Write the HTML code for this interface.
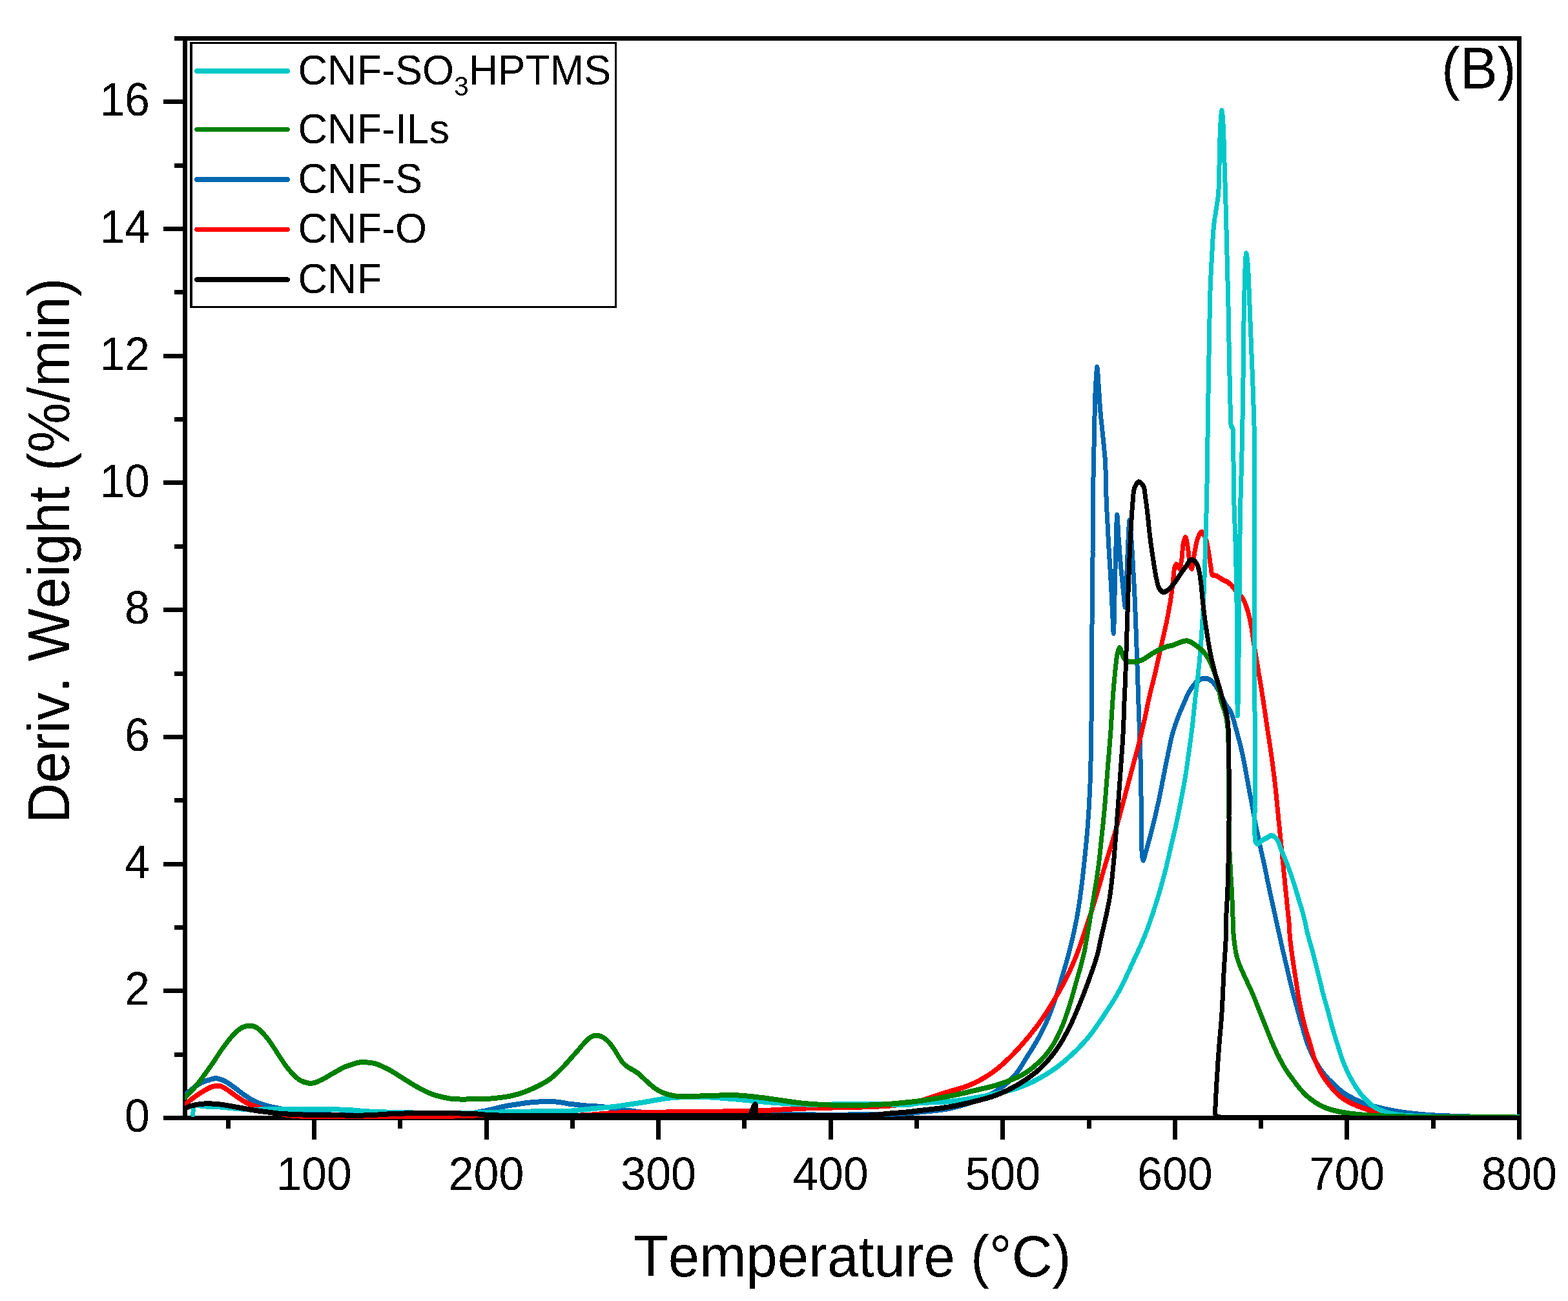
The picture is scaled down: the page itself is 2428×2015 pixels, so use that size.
<!DOCTYPE html>
<html lang="en">
<head>
<meta charset="utf-8">
<title>DTG curves (B)</title>
<style>
html,body{margin:0;padding:0;background:#fff;}
body{width:2428px;height:2015px;overflow:hidden;}
svg{display:block;font-family:"Liberation Sans",sans-serif;}
.ax{fill:#000;shape-rendering:crispEdges;}
.cv{fill:none;stroke-linejoin:round;stroke-linecap:round;shape-rendering:crispEdges;}
.tl{font-size:70px;fill:#000;}
.ti{font-size:86.9px;fill:#000;font-kerning:none;}
.lg{font-size:63px;fill:#000;}
</style>
</head>
<body>
<svg width="2428" height="2015" viewBox="0 0 2428 2015">
<rect x="0" y="0" width="2428" height="2015" fill="#fff"/>
<filter id="crisp" x="-5%" y="-5%" width="110%" height="110%" color-interpolation-filters="sRGB"><feComponentTransfer><feFuncA type="discrete" tableValues="0 1"/></feComponentTransfer></filter>
<g class="ax">
<rect x="283" y="56" width="7" height="1679"/>
<rect x="2349" y="56" width="7" height="1709"/>
<rect x="270" y="56" width="2086" height="7"/>
<rect x="253" y="1728" width="2103" height="7"/>
<rect x="270" y="1630" width="13" height="7"/>
<rect x="253" y="1531" width="30" height="7"/>
<rect x="270" y="1433" width="13" height="7"/>
<rect x="253" y="1335" width="30" height="7"/>
<rect x="270" y="1236" width="13" height="7"/>
<rect x="253" y="1138" width="30" height="7"/>
<rect x="270" y="1040" width="13" height="7"/>
<rect x="253" y="941" width="30" height="7"/>
<rect x="270" y="843" width="13" height="7"/>
<rect x="253" y="744" width="30" height="7"/>
<rect x="270" y="646" width="13" height="7"/>
<rect x="253" y="548" width="30" height="7"/>
<rect x="270" y="449" width="13" height="7"/>
<rect x="253" y="351" width="30" height="7"/>
<rect x="270" y="253" width="13" height="7"/>
<rect x="253" y="154" width="30" height="7"/>
<rect x="350" y="1735" width="7" height="13"/>
<rect x="483" y="1735" width="7" height="30"/>
<rect x="616" y="1735" width="7" height="13"/>
<rect x="750" y="1735" width="7" height="30"/>
<rect x="883" y="1735" width="7" height="13"/>
<rect x="1016" y="1735" width="7" height="30"/>
<rect x="1149" y="1735" width="7" height="13"/>
<rect x="1283" y="1735" width="7" height="30"/>
<rect x="1416" y="1735" width="7" height="13"/>
<rect x="1549" y="1735" width="7" height="30"/>
<rect x="1683" y="1735" width="7" height="13"/>
<rect x="1816" y="1735" width="7" height="30"/>
<rect x="1949" y="1735" width="7" height="13"/>
<rect x="2082" y="1735" width="7" height="30"/>
<rect x="2216" y="1735" width="7" height="13"/>
</g>
<clipPath id="plot"><rect x="286" y="60" width="2067" height="1673"/></clipPath>
<g clip-path="url(#plot)">
<path class="cv" stroke="#0068B0" stroke-width="7" transform="scale(1 1.14286)" d="M286.4,1483.8L289.0,1481.9L291.6,1480.0L294.3,1478.1L296.7,1476.4L299.2,1474.6L301.7,1472.9L304.3,1471.2L307.6,1469.4L311.0,1467.7L314.3,1466.3L317.2,1465.3L320.1,1464.5L322.9,1463.8L326.5,1462.7L330.0,1461.9L332.9,1461.5L335.7,1461.5L339.2,1462.1L342.9,1463.1L345.7,1464.2L348.6,1465.5L351.4,1466.9L354.3,1468.4L357.2,1470.1L360.0,1471.9L362.9,1473.7L365.7,1475.6L368.6,1477.5L371.4,1479.4L374.3,1481.3L377.1,1483.1L380.0,1484.8L382.8,1486.5L385.7,1488.1L388.5,1489.7L391.4,1491.1L394.3,1492.5L397.1,1493.6L400.0,1494.7L402.9,1495.6L405.7,1496.5L408.6,1497.4L411.4,1498.1L414.3,1498.8L417.1,1499.4L420.0,1500.0L422.7,1500.5L425.4,1501.0L428.6,1501.5L431.7,1502.1L435.1,1502.7L438.9,1503.5L442.9,1504.2L447.1,1505.0L451.4,1505.6L454.8,1506.1L458.2,1506.5L461.8,1507.0L465.5,1507.5L469.4,1507.9L473.3,1508.3L477.3,1508.7L481.4,1509.1L485.6,1509.4L489.9,1509.7L494.3,1510.0L497.8,1510.2L501.5,1510.3L505.3,1510.5L509.2,1510.6L513.1,1510.7L517.2,1510.8L521.3,1510.8L525.4,1510.9L529.6,1510.9L533.8,1510.9L537.9,1510.9L542.1,1510.9L546.2,1510.9L550.3,1511.0L554.3,1511.0L558.2,1511.0L562.0,1511.0L565.7,1511.0L569.9,1511.0L574.0,1511.0L577.9,1511.1L581.7,1511.1L585.5,1511.1L589.3,1511.1L593.0,1511.1L596.8,1511.1L600.6,1511.1L604.6,1511.1L608.6,1511.0L612.8,1511.0L617.1,1511.0L620.6,1511.0L624.3,1511.0L628.1,1511.0L632.0,1511.0L636.1,1510.9L640.2,1510.9L644.4,1510.9L648.6,1510.9L652.9,1510.9L657.2,1510.9L661.5,1510.9L665.8,1510.8L670.0,1510.8L674.2,1510.8L678.2,1510.7L682.2,1510.7L686.1,1510.6L689.8,1510.6L693.3,1510.5L696.7,1510.4L699.9,1510.3L702.9,1510.2L707.2,1510.1L711.3,1509.9L715.1,1509.7L718.7,1509.5L722.1,1509.3L725.3,1509.1L728.4,1508.8L731.4,1508.5L735.4,1508.0L738.9,1507.4L742.3,1506.8L745.7,1506.2L749.3,1505.7L752.9,1505.1L756.4,1504.4L760.0,1503.8L763.6,1503.0L767.1,1502.2L770.7,1501.4L774.3,1500.6L777.9,1499.9L781.4,1499.3L785.0,1498.7L788.6,1498.1L792.1,1497.6L795.7,1497.1L799.3,1496.7L802.9,1496.2L806.4,1495.8L809.9,1495.3L813.4,1494.8L817.1,1494.4L820.8,1494.1L824.6,1493.8L828.4,1493.5L832.2,1493.3L835.7,1493.1L839.1,1493.0L842.3,1492.9L845.5,1492.8L848.6,1492.8L852.4,1492.8L856.2,1492.9L860.0,1493.1L863.8,1493.5L867.7,1493.9L871.4,1494.4L874.8,1494.9L878.1,1495.5L881.4,1496.0L884.7,1496.3L888.0,1496.6L891.4,1496.9L895.2,1497.3L899.0,1497.7L902.9,1498.1L906.7,1498.4L910.5,1498.6L914.3,1498.8L918.1,1498.9L921.9,1499.1L925.7,1499.4L929.5,1499.6L933.3,1499.9L937.1,1500.3L940.9,1500.7L944.7,1501.3L948.6,1501.9L951.7,1502.3L954.9,1502.8L958.1,1503.3L961.4,1503.8L964.9,1504.2L968.5,1504.5L972.1,1504.9L975.7,1505.2L979.2,1505.6L982.7,1506.1L986.2,1506.5L990.0,1506.9L993.2,1507.2L996.5,1507.5L1000.0,1507.9L1003.6,1508.2L1007.4,1508.5L1011.4,1508.8L1014.7,1508.9L1018.2,1509.1L1021.8,1509.3L1025.5,1509.4L1029.4,1509.6L1033.4,1509.7L1037.4,1509.8L1041.5,1510.0L1045.7,1510.1L1050.0,1510.2L1054.3,1510.2L1057.8,1510.3L1061.3,1510.4L1064.8,1510.4L1068.4,1510.5L1072.0,1510.5L1075.7,1510.5L1079.4,1510.5L1083.2,1510.6L1087.1,1510.6L1091.0,1510.6L1094.9,1510.6L1098.9,1510.6L1103.0,1510.6L1107.1,1510.6L1111.4,1510.6L1115.6,1510.6L1120.0,1510.6L1123.4,1510.6L1127.0,1510.6L1130.6,1510.6L1134.3,1510.7L1138.1,1510.7L1141.9,1510.7L1145.8,1510.7L1149.7,1510.7L1153.7,1510.7L1157.7,1510.7L1161.8,1510.7L1165.9,1510.7L1170.0,1510.7L1174.1,1510.7L1178.3,1510.7L1182.4,1510.7L1186.6,1510.7L1190.7,1510.7L1194.9,1510.6L1199.0,1510.6L1203.1,1510.6L1207.1,1510.6L1211.2,1510.6L1215.2,1510.6L1219.1,1510.6L1223.0,1510.6L1226.8,1510.6L1230.6,1510.6L1234.3,1510.6L1238.5,1510.6L1242.6,1510.6L1246.7,1510.6L1250.9,1510.6L1254.9,1510.6L1259.0,1510.6L1263.1,1510.7L1267.1,1510.7L1271.1,1510.7L1275.1,1510.7L1279.0,1510.7L1282.9,1510.7L1286.8,1510.7L1290.6,1510.7L1294.4,1510.7L1298.2,1510.7L1301.9,1510.7L1305.6,1510.7L1309.3,1510.7L1312.9,1510.7L1316.5,1510.6L1320.0,1510.6L1324.2,1510.6L1328.3,1510.6L1332.5,1510.6L1336.6,1510.5L1340.6,1510.5L1344.6,1510.5L1348.6,1510.4L1352.4,1510.4L1356.3,1510.4L1360.0,1510.3L1363.6,1510.3L1367.2,1510.2L1370.6,1510.2L1373.9,1510.1L1377.1,1510.0L1381.2,1509.9L1385.1,1509.8L1388.9,1509.6L1392.5,1509.5L1396.0,1509.3L1399.3,1509.1L1402.6,1508.9L1405.7,1508.8L1409.3,1508.5L1412.5,1508.3L1415.6,1508.0L1419.0,1507.7L1422.9,1507.3L1426.0,1507.0L1429.4,1506.7L1433.1,1506.4L1437.0,1506.1L1441.1,1505.7L1445.2,1505.3L1449.5,1504.9L1453.8,1504.5L1458.1,1504.0L1462.3,1503.4L1466.5,1502.8L1470.5,1502.1L1474.2,1501.4L1478.0,1500.6L1481.9,1499.7L1485.8,1498.8L1489.6,1497.9L1493.5,1496.9L1497.3,1495.9L1501.1,1494.9L1504.8,1493.8L1508.3,1492.8L1511.7,1491.7L1515.0,1490.6L1518.1,1489.6L1522.0,1488.2L1525.6,1486.8L1529.0,1485.5L1532.3,1484.0L1535.5,1482.5L1538.7,1480.9L1541.9,1479.2L1545.0,1477.4L1548.2,1475.4L1551.4,1473.3L1554.5,1471.1L1557.6,1468.9L1560.5,1466.7L1563.2,1464.6L1565.7,1462.5L1568.5,1460.0L1570.9,1457.6L1573.2,1455.2L1575.4,1452.7L1577.6,1450.0L1579.7,1447.4L1581.7,1444.7L1583.6,1441.9L1585.6,1439.0L1587.6,1436.1L1589.5,1433.3L1591.5,1430.6L1593.5,1427.8L1595.5,1425.1L1597.5,1422.3L1599.5,1419.5L1601.4,1416.7L1603.2,1414.1L1604.9,1411.5L1606.6,1408.8L1608.3,1406.2L1610.0,1403.5L1611.7,1400.7L1613.3,1397.9L1614.9,1395.2L1616.4,1392.5L1617.9,1389.7L1619.4,1386.8L1620.9,1383.9L1622.4,1381.0L1623.8,1378.0L1625.2,1375.0L1626.6,1371.9L1628.0,1368.7L1629.4,1365.4L1630.8,1362.1L1632.2,1358.7L1633.5,1355.4L1634.8,1352.1L1636.0,1348.9L1637.1,1345.8L1638.3,1342.7L1639.3,1339.8L1640.3,1336.9L1641.3,1334.0L1642.3,1331.1L1643.2,1328.1L1644.3,1325.0L1645.3,1321.9L1646.4,1318.7L1647.5,1315.4L1648.6,1312.0L1649.8,1308.6L1650.9,1305.2L1652.0,1301.7L1653.1,1298.3L1654.1,1295.0L1655.1,1291.8L1656.0,1288.6L1656.9,1285.4L1657.8,1282.3L1658.7,1279.1L1659.6,1275.9L1660.5,1272.7L1661.3,1269.5L1662.1,1266.3L1663.0,1263.0L1663.8,1259.7L1664.6,1256.5L1665.3,1253.2L1666.1,1249.9L1666.9,1246.6L1667.6,1243.2L1668.3,1239.7L1669.0,1236.2L1669.6,1233.0L1670.2,1229.8L1670.8,1226.5L1671.3,1223.2L1671.9,1219.9L1672.4,1216.5L1672.9,1213.0L1673.5,1209.6L1674.0,1206.2L1674.5,1202.8L1675.0,1199.4L1675.4,1196.0L1675.9,1192.7L1676.4,1189.3L1676.8,1186.0L1677.3,1182.6L1677.7,1179.3L1678.1,1175.9L1678.5,1172.6L1678.9,1169.2L1679.3,1165.9L1679.7,1162.5L1680.1,1159.2L1680.5,1155.8L1680.9,1152.5L1681.2,1149.2L1681.6,1145.9L1682.0,1142.6L1682.3,1139.3L1682.7,1136.0L1683.0,1132.7L1683.4,1129.4L1683.7,1126.0L1684.0,1122.6L1684.3,1119.2L1684.6,1115.7L1684.9,1112.5L1685.1,1109.3L1685.4,1106.1L1685.6,1102.8L1685.9,1099.5L1686.1,1096.2L1686.3,1092.9L1686.5,1089.5L1686.7,1086.2L1686.9,1082.8L1687.1,1079.3L1687.3,1075.9L1687.5,1072.4L1687.7,1069.0L1687.8,1065.5L1688.0,1062.3L1688.1,1059.0L1688.3,1055.8L1688.4,1052.5L1688.5,1049.1L1688.6,1045.8L1688.7,1042.5L1688.8,1039.1L1688.9,1035.7L1689.0,1032.3L1689.1,1028.9L1689.2,1025.5L1689.3,1022.1L1689.4,1018.7L1689.5,1015.3L1689.5,1012.0L1689.6,1008.6L1689.7,1005.2L1689.7,1001.9L1689.8,998.5L1689.8,995.1L1689.9,991.6L1689.9,988.2L1689.9,984.7L1689.9,981.3L1690.0,977.8L1690.0,974.4L1690.0,971.0L1690.0,967.6L1690.0,964.2L1690.0,960.9L1690.1,957.6L1690.1,954.4L1690.1,951.2L1690.1,948.1L1690.1,945.0L1690.2,941.4L1690.2,937.9L1690.2,934.6L1690.2,931.3L1690.3,928.2L1690.3,925.0L1690.3,921.8L1690.4,918.6L1690.4,915.2L1690.4,911.7L1690.4,908.0L1690.5,904.2L1690.5,901.3L1690.5,898.3L1690.6,895.2L1690.6,892.0L1690.6,888.7L1690.6,885.4L1690.7,882.0L1690.7,878.6L1690.7,875.1L1690.7,871.5L1690.8,867.9L1690.8,864.3L1690.8,860.7L1690.9,857.0L1690.9,853.4L1690.9,849.7L1691.0,846.0L1691.0,842.4L1691.0,838.7L1691.1,835.1L1691.1,831.5L1691.1,827.9L1691.2,824.3L1691.2,820.8L1691.2,817.4L1691.3,813.9L1691.3,810.4L1691.3,806.9L1691.4,803.5L1691.4,800.0L1691.5,796.5L1691.5,793.1L1691.5,789.6L1691.6,786.1L1691.6,782.6L1691.7,779.2L1691.7,775.7L1691.8,772.2L1691.8,768.8L1691.8,765.3L1691.9,761.8L1691.9,758.3L1692.0,754.9L1692.0,751.4L1692.0,747.9L1692.1,744.4L1692.1,741.0L1692.1,737.5L1692.2,734.0L1692.2,730.4L1692.2,726.8L1692.3,723.1L1692.3,719.4L1692.3,715.6L1692.3,711.9L1692.4,708.1L1692.4,704.3L1692.4,700.6L1692.4,696.8L1692.5,693.1L1692.5,689.4L1692.5,685.8L1692.6,682.2L1692.6,678.7L1692.6,675.3L1692.6,671.9L1692.7,668.7L1692.7,665.5L1692.7,662.5L1692.8,659.6L1692.8,656.8L1692.9,654.2L1692.9,650.4L1693.0,647.0L1693.1,643.8L1693.2,640.9L1693.2,638.0L1693.3,635.2L1693.4,632.2L1693.5,629.1L1693.6,625.6L1693.6,622.7L1693.7,619.6L1693.8,616.3L1693.9,613.0L1693.9,609.6L1694.0,606.2L1694.1,602.7L1694.2,599.1L1694.3,595.6L1694.3,592.0L1694.4,588.5L1694.5,585.0L1694.6,581.6L1694.7,578.3L1694.8,575.0L1694.9,571.4L1694.9,567.7L1695.0,564.0L1695.1,560.4L1695.2,556.8L1695.3,553.3L1695.4,549.7L1695.5,546.3L1695.6,542.9L1695.7,539.6L1695.8,536.4L1696.0,533.3L1696.1,529.8L1696.3,526.4L1696.5,523.0L1696.7,519.8L1697.0,516.7L1697.2,513.7L1697.4,510.9L1697.6,508.3L1697.9,504.8L1698.2,501.3L1698.5,498.6L1698.8,497.5L1699.1,498.2L1699.4,500.2L1699.7,503.2L1700.0,506.9L1700.3,511.0L1700.6,515.2L1700.9,519.3L1701.2,522.9L1701.5,526.2L1701.7,529.6L1702.0,533.1L1702.2,536.6L1702.4,540.1L1702.7,543.6L1703.0,547.2L1703.3,550.7L1703.6,554.2L1703.9,557.7L1704.3,561.2L1704.7,564.8L1705.1,568.4L1705.5,572.0L1706.0,575.5L1706.4,578.9L1706.8,582.2L1707.1,585.4L1707.6,589.1L1708.0,592.7L1708.4,596.1L1708.8,599.5L1709.2,602.9L1709.5,606.3L1709.9,609.4L1710.2,612.4L1710.5,615.4L1710.9,618.5L1711.2,621.9L1711.4,625.6L1711.6,628.2L1711.7,631.0L1711.8,634.0L1712.0,637.0L1712.1,640.2L1712.1,643.5L1712.2,646.8L1712.3,650.3L1712.4,653.7L1712.5,657.3L1712.6,660.8L1712.7,664.4L1712.8,668.0L1712.9,671.5L1713.1,675.0L1713.2,678.3L1713.4,681.7L1713.6,685.1L1713.8,688.5L1713.9,692.0L1714.1,695.5L1714.3,699.0L1714.5,702.6L1714.7,706.1L1715.0,709.7L1715.2,713.3L1715.4,716.8L1715.6,720.3L1715.8,723.9L1716.0,727.3L1716.2,730.8L1716.5,734.2L1716.7,737.5L1716.9,741.1L1717.1,744.7L1717.4,748.3L1717.6,751.9L1717.9,755.4L1718.1,759.0L1718.4,762.5L1718.6,765.9L1718.9,769.4L1719.1,772.8L1719.3,776.2L1719.6,779.6L1719.8,783.0L1720.0,786.3L1720.2,789.6L1720.5,793.2L1720.7,796.9L1720.9,800.5L1721.1,804.1L1721.3,807.7L1721.5,811.3L1721.7,814.8L1721.9,818.2L1722.1,821.6L1722.3,824.9L1722.4,828.1L1722.6,831.2L1722.8,835.3L1723.1,839.7L1723.3,844.2L1723.5,848.5L1723.7,852.4L1723.9,855.5L1724.1,857.6L1724.3,858.3L1724.4,857.9L1724.5,856.8L1724.7,855.0L1724.8,852.7L1724.9,849.8L1725.0,846.4L1725.1,842.7L1725.2,838.7L1725.3,834.4L1725.4,830.0L1725.5,825.4L1725.7,820.9L1725.8,816.3L1725.9,811.9L1726.0,807.7L1726.1,803.7L1726.2,800.0L1726.3,796.6L1726.4,793.1L1726.5,789.5L1726.6,786.0L1726.7,782.4L1726.8,778.8L1726.9,775.2L1727.0,771.6L1727.1,768.0L1727.2,764.4L1727.3,760.9L1727.4,757.4L1727.6,753.9L1727.7,750.5L1727.8,747.1L1727.9,743.8L1728.0,740.6L1728.1,737.5L1728.2,733.6L1728.4,729.5L1728.5,725.1L1728.6,720.7L1728.7,716.4L1728.9,712.2L1729.0,708.3L1729.1,704.9L1729.3,702.0L1729.4,699.8L1729.6,698.4L1729.8,697.9L1730.0,698.6L1730.2,700.6L1730.5,703.6L1730.7,707.3L1731.0,711.6L1731.3,716.2L1731.5,720.8L1731.8,725.2L1732.1,729.2L1732.4,732.3L1732.7,735.5L1733.0,738.8L1733.2,742.2L1733.5,745.6L1733.8,749.0L1734.1,752.4L1734.5,755.7L1734.8,759.1L1735.1,762.4L1735.4,765.6L1735.7,768.8L1736.1,772.4L1736.5,776.0L1736.9,779.6L1737.3,783.2L1737.7,786.6L1738.1,790.1L1738.5,793.5L1738.9,796.8L1739.3,800.0L1739.7,803.9L1740.2,808.1L1740.7,812.5L1741.1,816.5L1741.6,819.8L1742.0,822.1L1742.4,822.9L1742.6,822.4L1742.9,821.0L1743.1,818.8L1743.3,816.0L1743.5,812.6L1743.6,808.7L1743.8,804.6L1744.0,800.2L1744.1,795.7L1744.3,791.3L1744.4,786.9L1744.6,782.9L1744.8,779.2L1744.9,775.9L1745.1,772.5L1745.2,769.1L1745.4,765.6L1745.6,762.1L1745.7,758.5L1745.9,755.0L1746.0,751.5L1746.2,748.0L1746.3,744.6L1746.5,741.3L1746.6,738.1L1746.8,734.9L1747.0,732.0L1747.1,729.2L1747.4,724.9L1747.6,720.3L1747.9,715.8L1748.2,711.7L1748.4,708.3L1748.7,706.0L1749.0,705.2L1749.3,705.8L1749.6,707.5L1750.0,710.0L1750.3,713.3L1750.7,717.1L1751.0,721.2L1751.4,725.5L1751.7,729.7L1752.1,733.8L1752.4,737.5L1752.7,740.8L1752.9,744.1L1753.2,747.5L1753.4,751.0L1753.7,754.5L1753.9,758.0L1754.1,761.5L1754.4,765.1L1754.6,768.6L1754.8,772.2L1755.0,775.7L1755.2,779.2L1755.5,782.6L1755.7,786.0L1755.9,789.4L1756.1,792.7L1756.3,796.1L1756.5,799.5L1756.7,802.9L1756.9,806.3L1757.1,809.8L1757.2,813.4L1757.4,817.1L1757.6,820.8L1757.8,824.0L1757.9,827.3L1758.1,830.7L1758.2,834.1L1758.4,837.6L1758.5,841.2L1758.7,844.8L1758.8,848.4L1759.0,852.1L1759.1,855.7L1759.3,859.4L1759.4,863.0L1759.6,866.5L1759.7,870.1L1759.8,873.5L1760.0,876.9L1760.1,880.2L1760.2,883.3L1760.4,887.1L1760.5,890.9L1760.7,894.7L1760.9,898.4L1761.0,902.1L1761.1,905.6L1761.3,909.1L1761.4,912.5L1761.5,915.8L1761.7,919.0L1761.8,922.1L1761.9,925.0L1762.0,928.7L1762.2,931.9L1762.3,935.0L1762.4,938.1L1762.5,941.4L1762.6,945.0L1762.8,947.9L1762.9,950.9L1763.0,954.1L1763.1,957.4L1763.3,960.8L1763.4,964.2L1763.5,967.7L1763.7,971.3L1763.8,974.8L1764.0,978.3L1764.1,981.8L1764.3,985.2L1764.4,988.5L1764.5,991.9L1764.7,995.2L1764.8,998.5L1765.0,1001.9L1765.1,1005.2L1765.2,1008.6L1765.4,1011.9L1765.5,1015.3L1765.6,1018.6L1765.7,1022.0L1765.9,1025.3L1766.0,1028.7L1766.1,1032.0L1766.1,1035.4L1766.2,1038.7L1766.3,1042.1L1766.4,1045.4L1766.5,1048.7L1766.5,1052.1L1766.6,1055.4L1766.7,1058.8L1766.7,1062.1L1766.8,1065.5L1766.8,1068.8L1766.9,1072.2L1766.9,1075.5L1767.0,1078.9L1767.0,1082.2L1767.0,1085.6L1767.1,1088.9L1767.1,1092.3L1767.1,1095.6L1767.2,1098.9L1767.2,1102.3L1767.2,1105.6L1767.3,1109.0L1767.3,1112.5L1767.3,1116.1L1767.3,1119.7L1767.3,1123.3L1767.4,1126.9L1767.4,1130.4L1767.4,1133.8L1767.5,1137.0L1767.5,1140.2L1767.6,1143.1L1767.7,1145.8L1767.8,1149.7L1768.0,1153.3L1768.2,1156.6L1768.4,1159.5L1768.8,1161.9L1769.6,1164.6L1770.4,1165.9L1771.6,1163.6L1772.7,1159.9L1773.6,1157.1L1774.6,1153.8L1775.3,1151.4L1776.2,1148.6L1777.2,1145.6L1778.3,1142.3L1779.3,1139.0L1780.3,1135.8L1781.2,1132.9L1782.0,1130.0L1782.9,1127.0L1783.8,1124.0L1784.6,1120.9L1785.5,1117.8L1786.3,1114.8L1787.2,1111.7L1788.1,1108.5L1789.0,1105.3L1789.8,1102.0L1790.7,1098.8L1791.5,1095.5L1792.4,1092.3L1793.2,1088.9L1794.1,1085.6L1794.9,1082.3L1795.6,1079.0L1796.4,1075.7L1797.2,1072.3L1797.9,1069.0L1798.7,1065.6L1799.4,1062.2L1800.2,1058.8L1801.0,1055.4L1801.7,1052.1L1802.5,1048.7L1803.3,1045.4L1804.0,1042.0L1804.8,1038.6L1805.5,1035.3L1806.3,1031.9L1807.1,1028.6L1807.9,1025.3L1808.6,1022.1L1809.3,1018.9L1810.1,1015.7L1810.8,1012.6L1811.5,1009.4L1812.3,1006.3L1813.1,1003.2L1813.9,1000.2L1814.7,997.2L1815.8,993.9L1816.9,990.6L1818.0,987.4L1819.1,984.3L1820.3,981.2L1821.5,978.1L1822.8,975.1L1824.1,971.9L1825.5,968.9L1826.9,965.8L1828.4,962.8L1829.9,959.8L1831.5,956.6L1832.9,953.6L1834.5,950.5L1836.0,947.3L1837.6,944.1L1839.3,941.0L1841.0,938.1L1842.9,935.4L1845.1,932.5L1847.4,929.7L1849.8,927.1L1852.2,924.8L1854.8,922.9L1858.2,921.0L1861.9,919.7L1865.5,919.2L1869.1,919.6L1872.7,920.9L1876.2,922.9L1878.4,924.7L1880.5,926.9L1882.5,929.4L1884.4,932.1L1886.3,934.8L1888.1,937.5L1889.8,940.2L1891.5,943.1L1893.0,946.0L1894.5,948.8L1896.0,951.6L1897.6,954.2L1899.7,956.9L1901.8,959.4L1903.9,961.9L1905.9,965.1L1907.2,967.7L1908.4,970.7L1909.6,973.9L1910.8,977.4L1911.9,980.9L1913.0,984.6L1914.1,988.2L1915.2,991.8L1916.2,995.2L1917.3,998.5L1918.3,1001.9L1919.3,1005.2L1920.2,1008.6L1921.2,1011.9L1922.1,1015.3L1923.0,1018.6L1923.9,1022.0L1924.7,1025.3L1925.5,1028.7L1926.3,1032.0L1927.0,1035.3L1927.7,1038.7L1928.4,1042.0L1929.1,1045.4L1929.8,1048.7L1930.4,1052.1L1931.1,1055.4L1931.9,1058.8L1932.6,1062.1L1933.3,1065.5L1934.0,1068.8L1934.7,1072.2L1935.4,1075.5L1936.1,1078.9L1936.9,1082.2L1937.6,1085.6L1938.3,1088.9L1939.0,1092.3L1939.7,1095.6L1940.4,1099.0L1941.1,1102.3L1941.8,1105.6L1942.5,1109.0L1943.2,1112.3L1944.0,1115.7L1944.8,1119.0L1945.5,1122.4L1946.3,1125.7L1947.1,1129.1L1947.9,1132.4L1948.7,1135.8L1949.5,1139.1L1950.3,1142.5L1951.1,1145.8L1951.9,1149.2L1952.8,1152.5L1953.6,1155.8L1954.5,1159.2L1955.3,1162.5L1956.2,1165.9L1957.0,1169.2L1957.9,1172.6L1958.7,1175.9L1959.5,1179.3L1960.3,1182.6L1961.1,1186.0L1961.8,1189.3L1962.6,1192.7L1963.4,1196.0L1964.2,1199.4L1965.0,1202.7L1965.8,1206.0L1966.6,1209.4L1967.4,1212.7L1968.3,1216.1L1969.1,1219.4L1970.0,1222.7L1970.8,1226.1L1971.7,1229.4L1972.5,1232.8L1973.4,1236.2L1974.2,1239.3L1974.9,1242.5L1975.7,1245.7L1976.5,1249.0L1977.3,1252.2L1978.1,1255.4L1978.9,1258.6L1979.7,1261.6L1980.4,1264.6L1981.2,1267.5L1982.0,1270.7L1982.7,1273.7L1983.5,1276.6L1984.2,1279.5L1985.0,1282.4L1985.7,1285.3L1986.5,1288.3L1987.4,1291.4L1988.2,1294.5L1989.1,1297.7L1989.9,1301.0L1990.8,1304.2L1991.7,1307.5L1992.6,1310.7L1993.4,1313.9L1994.3,1317.1L1995.1,1320.4L1996.0,1323.6L1996.8,1326.8L1997.7,1330.1L1998.6,1333.3L1999.4,1336.4L2000.3,1339.5L2001.3,1342.8L2002.2,1346.0L2003.2,1349.2L2004.2,1352.4L2005.1,1355.6L2006.2,1358.8L2007.2,1362.1L2008.1,1365.0L2009.0,1368.0L2009.9,1370.9L2010.9,1374.0L2011.8,1377.0L2012.8,1380.0L2013.8,1383.1L2014.8,1386.2L2015.8,1389.2L2016.9,1392.4L2017.9,1395.7L2019.0,1399.0L2020.1,1402.3L2021.2,1405.6L2022.4,1408.9L2023.6,1412.1L2024.9,1415.3L2026.2,1418.3L2027.7,1421.4L2029.2,1424.5L2030.8,1427.5L2032.5,1430.5L2034.2,1433.4L2035.9,1436.2L2037.7,1439.0L2039.4,1441.7L2041.5,1444.7L2043.7,1447.6L2045.9,1450.5L2048.1,1453.2L2050.4,1455.8L2052.8,1458.3L2055.3,1460.9L2057.9,1463.2L2060.6,1465.5L2063.3,1467.7L2066.1,1470.0L2068.5,1472.0L2071.0,1474.1L2073.5,1476.1L2076.1,1478.1L2078.7,1479.9L2081.3,1481.7L2084.3,1483.4L2087.3,1485.0L2090.4,1486.4L2093.5,1487.8L2096.6,1489.2L2099.6,1490.5L2102.6,1491.7L2105.7,1492.9L2108.7,1494.0L2111.8,1495.0L2115.6,1496.2L2119.4,1497.2L2123.2,1498.2L2127.0,1499.2L2130.8,1500.1L2134.5,1500.9L2138.3,1501.7L2142.3,1502.5L2146.0,1503.2L2149.7,1503.9L2153.6,1504.6L2157.5,1505.2L2161.3,1505.8L2165.1,1506.4L2168.8,1506.9L2172.5,1507.4L2176.3,1507.9L2180.4,1508.3L2183.7,1508.7L2187.1,1509.0L2190.7,1509.4L2194.3,1509.7L2198.0,1510.0L2201.7,1510.3L2205.3,1510.6L2209.0,1510.8L2212.5,1511.1L2216.0,1511.3L2219.5,1511.4L2223.0,1511.6L2226.5,1511.7L2230.1,1511.9L2233.8,1512.0L2237.5,1512.2L2241.1,1512.3L2244.6,1512.4L2248.1,1512.6L2251.7,1512.7L2255.4,1512.8L2259.2,1512.9L2263.1,1513.0L2267.1,1513.1L2271.3,1513.2L2275.6,1513.3L2278.8,1513.4L2282.2,1513.4L2285.6,1513.5L2289.2,1513.5L2292.8,1513.6L2296.6,1513.6L2300.4,1513.6L2304.2,1513.6L2308.1,1513.6L2312.1,1513.7L2316.1,1513.7L2320.1,1513.7L2324.1,1513.7L2328.1,1513.7L2332.1,1513.7L2336.2,1513.8L2340.1,1513.8L2344.1,1513.8L2348.0,1513.8L2351.8,1513.8"/>
<path class="cv" stroke="#FF0000" stroke-width="7" transform="scale(1 1.14286)" d="M286.4,1497.5L289.0,1495.4L291.6,1493.3L294.3,1491.2L297.1,1489.3L300.0,1487.4L302.9,1485.6L305.7,1483.9L308.6,1482.2L311.4,1480.6L314.3,1479.1L317.1,1477.6L320.0,1476.2L322.9,1474.9L325.7,1473.7L328.6,1472.8L332.2,1471.9L335.7,1471.5L338.6,1471.5L341.4,1471.9L344.9,1473.2L348.6,1475.0L351.4,1476.5L354.3,1478.2L357.1,1480.0L360.0,1481.9L362.9,1483.8L365.7,1485.6L368.6,1487.3L371.4,1489.0L374.3,1490.6L377.1,1492.2L380.0,1493.6L382.9,1495.0L385.7,1496.1L388.6,1497.2L391.4,1498.1L394.3,1499.0L397.1,1499.8L400.0,1500.6L402.8,1501.4L405.5,1502.3L408.6,1503.1L411.9,1504.0L415.5,1505.0L419.2,1506.0L422.9,1506.9L426.3,1507.7L429.7,1508.5L433.2,1509.3L437.1,1510.0L440.2,1510.4L443.4,1510.8L446.9,1511.2L450.4,1511.5L454.1,1511.8L457.9,1512.0L461.8,1512.3L465.7,1512.5L469.3,1512.7L472.9,1512.8L476.6,1512.9L480.4,1513.0L484.3,1513.0L488.2,1513.1L492.2,1513.1L496.2,1513.1L500.3,1513.2L504.4,1513.2L508.6,1513.2L512.1,1513.3L515.8,1513.3L519.5,1513.3L523.3,1513.4L527.1,1513.4L531.0,1513.4L534.9,1513.4L538.8,1513.4L542.7,1513.5L546.6,1513.5L550.5,1513.5L554.3,1513.5L558.2,1513.5L562.0,1513.5L565.7,1513.5L569.8,1513.5L573.7,1513.5L577.7,1513.5L581.6,1513.5L585.6,1513.5L589.5,1513.5L593.4,1513.5L597.3,1513.5L601.2,1513.5L605.1,1513.5L609.1,1513.5L613.1,1513.5L617.1,1513.5L620.9,1513.5L624.6,1513.5L628.4,1513.4L632.2,1513.4L636.0,1513.4L639.8,1513.4L643.6,1513.3L647.4,1513.3L651.3,1513.3L655.1,1513.2L659.0,1513.2L662.8,1513.2L666.6,1513.1L670.5,1513.1L674.3,1513.0L678.1,1512.9L682.1,1512.9L686.0,1512.8L690.0,1512.7L694.1,1512.6L698.1,1512.5L702.1,1512.5L706.1,1512.4L710.0,1512.3L713.8,1512.2L717.6,1512.1L721.3,1512.0L724.8,1511.9L728.2,1511.8L731.4,1511.8L735.3,1511.6L738.8,1511.5L742.0,1511.4L745.1,1511.3L748.3,1511.2L751.7,1511.1L755.5,1511.1L760.0,1511.0L762.7,1511.0L765.7,1511.0L768.9,1511.0L772.3,1511.0L775.9,1511.0L779.7,1511.0L783.6,1511.0L787.7,1511.1L792.0,1511.1L796.3,1511.2L800.7,1511.2L805.3,1511.3L809.8,1511.3L814.5,1511.4L819.1,1511.4L823.8,1511.5L828.4,1511.5L833.0,1511.6L837.6,1511.6L842.1,1511.7L846.6,1511.7L850.9,1511.8L855.1,1511.8L859.2,1511.9L863.2,1511.9L867.0,1511.9L870.6,1511.9L874.0,1511.9L877.2,1511.9L880.1,1511.9L882.9,1511.9L887.4,1511.8L891.4,1511.7L895.0,1511.7L898.4,1511.6L901.6,1511.4L904.8,1511.3L908.0,1511.2L911.4,1511.0L915.0,1510.8L918.6,1510.6L922.1,1510.3L925.7,1510.0L929.3,1509.7L932.9,1509.5L936.4,1509.2L940.0,1509.0L943.5,1508.8L947.0,1508.6L950.5,1508.4L953.9,1508.3L957.4,1508.1L961.0,1508.0L964.7,1507.9L968.6,1507.8L972.1,1507.7L975.8,1507.6L979.6,1507.6L983.5,1507.5L987.5,1507.5L991.5,1507.5L995.5,1507.5L999.5,1507.5L1003.5,1507.4L1007.5,1507.4L1011.4,1507.4L1015.3,1507.3L1019.1,1507.3L1022.9,1507.2L1026.7,1507.2L1030.5,1507.2L1034.3,1507.1L1038.1,1507.1L1042.0,1507.0L1046.0,1507.0L1050.1,1506.9L1054.3,1506.9L1057.9,1506.8L1061.6,1506.8L1065.4,1506.8L1069.3,1506.7L1073.3,1506.7L1077.4,1506.7L1081.4,1506.6L1085.5,1506.6L1089.6,1506.6L1093.6,1506.6L1097.6,1506.5L1101.4,1506.5L1105.2,1506.5L1108.9,1506.4L1112.4,1506.4L1115.7,1506.4L1119.8,1506.3L1123.7,1506.3L1127.5,1506.3L1131.1,1506.2L1134.7,1506.2L1138.2,1506.2L1141.6,1506.1L1145.1,1506.1L1148.6,1506.0L1152.2,1505.9L1155.9,1505.9L1159.4,1505.8L1163.0,1505.7L1166.5,1505.6L1170.0,1505.5L1173.6,1505.4L1177.1,1505.2L1180.7,1505.1L1184.3,1505.0L1187.9,1504.8L1191.4,1504.7L1195.0,1504.5L1198.6,1504.3L1202.1,1504.2L1205.7,1504.0L1209.3,1503.8L1212.9,1503.6L1216.4,1503.4L1220.0,1503.2L1223.6,1503.0L1227.1,1502.8L1230.7,1502.7L1234.3,1502.5L1237.9,1502.3L1241.4,1502.2L1245.0,1502.1L1248.6,1501.9L1252.1,1501.8L1255.7,1501.7L1259.3,1501.6L1262.9,1501.5L1266.4,1501.4L1270.0,1501.3L1273.6,1501.3L1277.1,1501.2L1280.7,1501.2L1284.3,1501.1L1287.9,1501.1L1291.4,1501.0L1295.0,1500.9L1298.6,1500.9L1302.1,1500.8L1305.7,1500.8L1309.3,1500.7L1312.9,1500.6L1316.4,1500.6L1320.0,1500.5L1323.6,1500.4L1327.1,1500.3L1330.7,1500.3L1334.3,1500.2L1337.9,1500.1L1341.4,1500.0L1345.0,1499.9L1348.6,1499.8L1352.2,1499.6L1355.8,1499.5L1359.5,1499.4L1363.1,1499.2L1366.7,1499.1L1370.3,1498.9L1373.8,1498.7L1377.1,1498.5L1380.9,1498.2L1384.5,1497.9L1388.0,1497.5L1391.5,1497.1L1395.0,1496.7L1398.6,1496.2L1402.0,1495.8L1405.4,1495.4L1408.9,1494.9L1412.4,1494.4L1415.9,1493.8L1419.4,1493.2L1422.9,1492.5L1426.3,1491.7L1429.7,1490.8L1433.1,1489.8L1436.5,1488.8L1439.9,1487.8L1443.3,1486.8L1446.7,1485.8L1450.1,1484.9L1453.5,1483.9L1456.9,1483.0L1460.3,1482.0L1463.7,1481.0L1467.1,1480.1L1470.5,1479.2L1473.9,1478.3L1477.3,1477.4L1480.7,1476.6L1484.1,1475.8L1487.5,1474.9L1490.9,1474.0L1494.3,1472.9L1497.7,1471.8L1501.2,1470.6L1504.6,1469.3L1508.0,1468.0L1511.4,1466.6L1514.7,1465.1L1518.1,1463.5L1521.1,1462.1L1524.2,1460.5L1527.2,1458.9L1530.1,1457.3L1533.1,1455.5L1536.1,1453.8L1539.0,1451.9L1541.9,1450.0L1544.6,1448.1L1547.3,1446.2L1550.0,1444.2L1552.7,1442.1L1555.3,1440.0L1557.9,1437.9L1560.5,1435.7L1563.1,1433.5L1565.7,1431.3L1568.4,1428.9L1571.1,1426.4L1573.8,1424.0L1576.4,1421.4L1579.1,1418.9L1581.7,1416.3L1584.3,1413.7L1586.9,1411.0L1589.5,1408.3L1592.0,1405.8L1594.4,1403.2L1596.8,1400.6L1599.2,1397.9L1601.6,1395.2L1604.0,1392.5L1606.3,1389.8L1608.7,1387.0L1611.0,1384.1L1613.3,1381.3L1615.4,1378.6L1617.5,1375.9L1619.6,1373.1L1621.7,1370.3L1623.7,1367.4L1625.8,1364.5L1627.8,1361.6L1629.8,1358.8L1631.7,1356.0L1633.6,1353.2L1635.4,1350.5L1637.1,1347.9L1639.2,1344.9L1641.1,1342.0L1642.9,1339.2L1644.6,1336.4L1646.3,1333.7L1648.0,1330.9L1649.7,1328.0L1651.4,1325.0L1653.0,1322.2L1654.6,1319.3L1656.1,1316.4L1657.7,1313.5L1659.3,1310.5L1660.8,1307.4L1662.3,1304.3L1663.8,1301.2L1665.3,1298.1L1666.7,1295.0L1668.1,1291.9L1669.4,1288.8L1670.7,1285.7L1672.0,1282.5L1673.2,1279.3L1674.5,1276.1L1675.7,1272.8L1676.9,1269.6L1678.1,1266.5L1679.3,1263.3L1680.5,1260.3L1681.7,1257.2L1682.9,1254.1L1684.1,1251.1L1685.2,1248.1L1686.4,1245.1L1687.5,1242.1L1688.6,1239.1L1689.8,1236.1L1690.9,1233.1L1692.0,1230.1L1693.2,1226.8L1694.3,1223.4L1695.5,1220.1L1696.7,1216.7L1697.8,1213.3L1698.9,1210.0L1700.1,1206.7L1701.2,1203.3L1702.3,1200.0L1703.3,1196.9L1704.4,1193.7L1705.4,1190.5L1706.4,1187.4L1707.4,1184.3L1708.4,1181.2L1709.4,1178.1L1710.4,1175.0L1711.5,1171.9L1712.6,1168.6L1713.8,1165.3L1714.9,1162.0L1716.1,1158.7L1717.3,1155.5L1718.4,1152.2L1719.5,1149.0L1720.6,1145.8L1721.7,1142.8L1722.7,1139.7L1723.7,1136.7L1724.7,1133.8L1725.7,1130.8L1726.7,1127.8L1727.7,1124.8L1728.7,1121.7L1729.7,1118.5L1730.7,1115.3L1731.7,1112.1L1732.7,1108.8L1733.7,1105.6L1734.7,1102.3L1735.7,1099.0L1736.7,1095.6L1737.7,1092.4L1738.7,1089.1L1739.7,1085.7L1740.8,1082.4L1741.8,1079.0L1742.8,1075.6L1743.8,1072.2L1744.9,1068.8L1745.9,1065.5L1746.9,1062.1L1747.9,1058.8L1749.0,1055.4L1750.0,1052.1L1751.0,1048.7L1752.0,1045.4L1753.0,1042.1L1754.1,1038.7L1755.1,1035.4L1756.1,1032.0L1757.1,1028.7L1758.2,1025.3L1759.2,1022.0L1760.2,1018.6L1761.3,1015.3L1762.3,1011.9L1763.3,1008.6L1764.3,1005.2L1765.2,1001.9L1766.1,998.6L1767.0,995.2L1767.9,991.9L1768.8,988.5L1769.7,985.2L1770.6,981.8L1771.4,978.5L1772.3,975.1L1773.1,971.8L1773.9,968.5L1774.7,965.2L1775.4,961.9L1776.2,958.6L1777.0,955.3L1777.8,952.0L1778.6,948.7L1779.4,945.4L1780.3,942.4L1781.1,939.3L1781.9,936.3L1782.8,933.3L1783.7,930.2L1784.6,927.2L1785.5,924.1L1786.3,921.0L1787.2,917.8L1788.1,914.6L1789.0,911.3L1789.8,908.0L1790.7,904.6L1791.6,901.2L1792.4,897.8L1793.3,894.3L1794.2,890.9L1795.0,887.4L1795.9,884.0L1796.8,880.5L1797.6,877.1L1798.5,873.7L1799.4,870.2L1800.3,866.7L1801.2,863.3L1802.1,859.8L1803.0,856.3L1803.9,852.9L1804.8,849.5L1805.6,846.1L1806.4,842.8L1807.1,839.6L1807.9,836.2L1808.7,832.8L1809.4,829.5L1810.1,826.3L1810.7,823.0L1811.4,819.8L1812.0,816.7L1812.5,813.5L1813.1,810.4L1813.6,807.2L1814.1,803.9L1814.6,800.7L1815.0,797.5L1815.5,794.3L1815.9,791.3L1816.3,788.3L1816.7,785.4L1817.1,781.7L1817.5,778.0L1817.9,774.4L1818.4,771.3L1819.0,768.8L1820.1,766.0L1821.4,764.6L1822.9,766.2L1824.7,769.3L1826.2,770.8L1827.3,769.4L1828.3,766.3L1829.0,762.2L1829.8,758.3L1830.3,755.1L1830.6,751.5L1830.9,747.7L1831.2,744.0L1831.6,740.5L1832.1,737.5L1833.2,733.4L1834.5,729.7L1835.7,728.1L1836.7,729.5L1837.6,733.0L1838.5,737.4L1839.3,741.7L1839.8,744.6L1840.2,747.9L1840.6,751.4L1841.0,755.0L1841.4,758.5L1841.8,761.7L1842.3,764.5L1842.9,766.7L1844.0,769.6L1845.2,770.8L1846.0,769.9L1846.6,767.5L1847.3,764.0L1848.0,759.9L1848.6,755.6L1849.3,751.5L1850.0,747.9L1850.7,744.6L1851.4,741.2L1852.1,737.9L1852.9,734.7L1853.7,731.8L1854.8,729.2L1856.6,725.5L1858.7,722.2L1860.7,720.8L1862.8,722.2L1864.8,725.5L1866.7,729.2L1867.7,731.8L1868.6,734.8L1869.4,738.0L1870.1,741.3L1870.8,744.6L1871.4,747.9L1872.0,750.9L1872.6,754.0L1873.1,757.1L1873.6,760.3L1874.0,763.3L1874.5,766.1L1875.0,768.8L1875.4,771.9L1875.8,774.8L1876.3,777.4L1877.4,779.2L1880.1,779.9L1883.3,780.2L1886.4,781.7L1889.6,783.6L1892.9,785.4L1896.1,786.8L1899.4,788.1L1902.4,789.6L1904.9,791.5L1907.3,793.6L1909.5,795.8L1911.9,798.6L1914.3,801.4L1916.7,804.2L1919.1,806.2L1921.5,808.1L1923.8,810.4L1925.4,812.8L1927.0,815.6L1928.4,818.6L1929.7,821.8L1931.0,825.0L1932.0,827.7L1932.9,830.6L1933.8,833.5L1934.6,836.5L1935.4,839.5L1936.2,842.7L1936.9,845.8L1937.6,849.0L1938.2,852.3L1938.8,855.6L1939.4,859.0L1939.9,862.5L1940.5,865.9L1941.0,869.4L1941.7,872.9L1942.2,875.9L1942.8,879.0L1943.4,882.1L1944.0,885.2L1944.6,888.3L1945.2,891.4L1945.8,894.6L1946.4,897.7L1947.0,900.9L1947.6,904.2L1948.2,907.3L1948.8,910.5L1949.4,913.7L1950.1,916.9L1950.7,920.1L1951.3,923.4L1951.9,926.7L1952.5,930.0L1953.2,933.4L1953.8,936.8L1954.4,940.2L1955.0,943.5L1955.6,946.9L1956.2,950.3L1956.8,953.8L1957.4,957.2L1958.0,960.8L1958.6,964.3L1959.2,967.8L1959.8,971.4L1960.4,974.9L1961.0,978.3L1961.5,981.8L1962.1,985.2L1962.7,988.6L1963.3,992.0L1963.9,995.4L1964.5,998.7L1965.1,1002.1L1965.7,1005.4L1966.2,1008.7L1966.8,1012.0L1967.4,1015.3L1967.9,1018.7L1968.5,1022.0L1969.0,1025.3L1969.5,1028.7L1970.0,1032.0L1970.5,1035.4L1971.0,1038.7L1971.5,1042.0L1972.0,1045.4L1972.5,1048.7L1973.0,1052.1L1973.4,1055.4L1973.9,1058.8L1974.3,1062.1L1974.7,1065.5L1975.2,1068.8L1975.6,1072.2L1976.0,1075.7L1976.4,1079.1L1976.8,1082.5L1977.2,1085.9L1977.5,1089.3L1977.9,1092.7L1978.3,1096.0L1978.6,1099.3L1979.0,1102.5L1979.3,1105.6L1979.7,1109.2L1980.1,1112.6L1980.5,1116.0L1980.9,1119.3L1981.3,1122.6L1981.6,1125.9L1982.0,1129.2L1982.4,1132.4L1982.8,1135.8L1983.2,1139.1L1983.5,1142.5L1983.9,1145.8L1984.3,1149.1L1984.7,1152.5L1985.1,1155.8L1985.5,1159.2L1985.8,1162.5L1986.2,1165.9L1986.6,1169.2L1987.0,1172.6L1987.4,1175.9L1987.7,1179.3L1988.1,1182.6L1988.5,1186.0L1988.9,1189.3L1989.3,1192.7L1989.7,1196.0L1990.0,1199.4L1990.4,1202.7L1990.8,1206.0L1991.2,1209.4L1991.6,1212.7L1992.0,1216.1L1992.3,1219.4L1992.7,1222.8L1993.1,1226.1L1993.5,1229.5L1993.9,1233.1L1994.4,1236.6L1994.8,1240.2L1995.2,1243.7L1995.6,1247.2L1996.0,1250.4L1996.3,1253.5L1996.5,1256.2L1996.8,1259.7L1996.9,1262.6L1997.0,1265.5L1997.2,1268.8L1997.5,1271.6L1997.9,1274.6L1998.3,1277.8L1998.8,1281.1L1999.3,1284.5L1999.8,1287.9L2000.3,1291.3L2000.8,1294.5L2001.3,1297.7L2001.9,1300.9L2002.4,1304.3L2003.0,1307.6L2003.6,1311.0L2004.2,1314.5L2004.8,1317.9L2005.5,1321.5L2006.0,1324.7L2006.6,1328.1L2007.2,1331.5L2007.8,1335.0L2008.4,1338.4L2009.0,1341.9L2009.6,1345.4L2010.3,1348.9L2011.0,1352.4L2011.6,1355.8L2012.4,1359.1L2013.1,1362.6L2013.9,1366.0L2014.8,1369.5L2015.6,1372.9L2016.5,1376.3L2017.4,1379.7L2018.3,1383.0L2019.2,1386.2L2020.1,1389.3L2021.0,1392.2L2022.0,1395.4L2023.0,1398.4L2024.0,1401.2L2025.0,1404.0L2026.0,1406.8L2027.0,1409.6L2028.0,1412.5L2029.1,1415.7L2030.1,1418.9L2031.1,1422.2L2032.1,1425.5L2033.2,1428.7L2034.4,1431.9L2035.6,1435.0L2037.0,1438.2L2038.5,1441.4L2040.1,1444.5L2041.7,1447.5L2043.4,1450.5L2045.1,1453.3L2046.9,1456.0L2048.7,1458.6L2050.6,1461.1L2052.5,1463.5L2054.5,1465.9L2056.6,1468.3L2058.7,1470.7L2060.8,1473.0L2063.0,1475.3L2065.3,1477.5L2067.6,1479.7L2069.9,1481.7L2072.5,1483.7L2075.1,1485.7L2077.7,1487.5L2080.4,1489.2L2083.2,1490.8L2086.2,1492.4L2089.2,1493.8L2092.3,1495.1L2095.4,1496.3L2098.5,1497.5L2101.5,1498.6L2104.5,1499.6L2107.6,1500.6L2110.7,1501.6L2113.7,1502.5L2117.5,1503.6L2121.4,1504.7L2125.2,1505.8L2129.0,1506.7L2132.3,1507.4L2135.5,1508.0L2138.8,1508.6L2142.3,1509.2L2145.8,1509.7L2149.5,1510.3L2153.3,1510.8L2157.2,1511.2L2161.3,1511.7L2164.5,1512.0L2167.5,1512.2L2170.6,1512.4L2173.8,1512.6L2177.2,1512.8L2181.0,1513.0L2185.2,1513.2L2189.9,1513.3L2192.3,1513.4L2194.9,1513.5L2197.6,1513.5L2200.4,1513.6L2203.4,1513.6L2206.5,1513.7L2209.8,1513.7L2213.1,1513.7L2216.6,1513.8L2220.2,1513.8L2223.8,1513.8L2227.6,1513.8L2231.5,1513.9L2235.4,1513.9L2239.4,1513.9L2243.5,1513.9L2247.6,1513.9L2251.8,1513.9L2256.1,1513.9L2260.4,1513.9L2264.8,1513.9L2269.2,1513.9L2273.6,1513.9L2278.0,1513.9L2282.5,1513.9L2287.0,1513.9L2291.4,1513.8L2295.9,1513.8L2300.4,1513.8L2304.9,1513.8L2309.3,1513.8L2313.8,1513.8L2318.2,1513.8L2322.6,1513.8L2326.9,1513.8L2331.2,1513.8L2335.4,1513.8L2339.6,1513.8L2343.8,1513.8L2347.8,1513.8L2351.8,1513.8"/>
<path class="cv" stroke="#00C8C8" stroke-width="7" transform="scale(1 1.14286)" d="M298.6,1510.4L298.8,1508.6L299.0,1506.9L299.3,1504.7L299.7,1502.5L300.2,1500.1L301.1,1498.1L302.2,1497.3L303.6,1497.0L305.9,1497.5L308.6,1498.2L311.8,1498.7L315.7,1499.1L318.4,1499.3L321.6,1499.5L325.2,1499.6L329.1,1499.7L333.0,1499.9L337.0,1500.0L340.8,1500.2L344.3,1500.4L348.0,1500.6L351.7,1501.0L355.2,1501.3L358.7,1501.6L362.2,1502.0L365.7,1502.2L369.3,1502.5L372.9,1502.8L376.4,1503.1L380.0,1503.4L383.6,1503.6L387.1,1503.8L390.7,1503.8L394.2,1503.8L397.7,1503.7L401.2,1503.7L404.8,1503.6L408.6,1503.5L411.9,1503.5L415.2,1503.4L418.6,1503.3L422.0,1503.3L425.5,1503.2L429.2,1503.2L433.1,1503.2L437.1,1503.1L440.4,1503.1L443.8,1503.1L447.4,1503.1L451.2,1503.1L455.0,1503.1L459.0,1503.1L463.0,1503.2L467.0,1503.2L471.1,1503.2L475.1,1503.2L479.1,1503.2L483.1,1503.3L486.9,1503.3L490.7,1503.3L494.3,1503.4L498.4,1503.4L502.6,1503.4L506.7,1503.5L510.7,1503.5L514.7,1503.5L518.6,1503.6L522.5,1503.6L526.2,1503.7L530.0,1503.8L533.6,1503.9L537.1,1504.0L541.0,1504.2L544.8,1504.4L548.4,1504.7L552.0,1505.0L555.5,1505.3L558.9,1505.5L562.3,1505.8L565.7,1506.0L569.6,1506.2L573.1,1506.4L576.7,1506.5L580.3,1506.6L584.2,1506.7L588.6,1506.9L591.6,1507.0L594.8,1507.1L598.2,1507.2L601.7,1507.2L605.3,1507.3L609.0,1507.4L612.9,1507.5L616.8,1507.6L620.8,1507.7L624.9,1507.8L629.0,1507.9L633.1,1507.9L637.3,1508.0L641.5,1508.1L645.7,1508.1L649.3,1508.2L652.9,1508.2L656.7,1508.2L660.5,1508.3L664.4,1508.3L668.3,1508.3L672.3,1508.3L676.3,1508.3L680.4,1508.3L684.5,1508.3L688.6,1508.3L692.7,1508.3L696.7,1508.3L700.8,1508.3L704.8,1508.3L708.8,1508.3L712.8,1508.3L716.7,1508.3L720.5,1508.2L724.2,1508.2L727.9,1508.2L731.4,1508.1L735.6,1508.1L739.6,1508.0L743.6,1507.9L747.5,1507.9L751.4,1507.8L755.2,1507.7L758.9,1507.6L762.7,1507.5L766.4,1507.4L770.1,1507.3L773.7,1507.2L777.4,1507.1L781.1,1507.0L784.8,1506.9L788.6,1506.9L792.6,1506.8L796.8,1506.7L801.0,1506.7L805.4,1506.6L809.7,1506.5L814.0,1506.5L818.3,1506.4L822.5,1506.3L826.5,1506.3L830.3,1506.2L833.9,1506.2L837.2,1506.1L840.2,1506.1L842.9,1506.1L847.2,1506.0L850.7,1506.0L854.3,1506.0L857.7,1506.0L861.3,1506.0L865.0,1506.0L868.6,1506.0L872.1,1506.0L875.7,1505.9L879.3,1505.8L882.9,1505.6L886.4,1505.4L890.0,1505.1L893.6,1504.7L897.1,1504.4L900.7,1504.1L904.3,1503.8L907.9,1503.4L911.4,1503.1L915.0,1502.8L918.6,1502.5L922.1,1502.2L925.7,1501.9L929.3,1501.6L932.9,1501.3L936.4,1500.9L940.0,1500.6L943.6,1500.3L947.1,1500.0L950.7,1499.7L954.3,1499.4L957.9,1498.9L961.4,1498.5L965.0,1498.0L968.6,1497.5L972.1,1497.0L975.7,1496.6L979.3,1496.1L982.9,1495.6L986.4,1495.2L990.0,1494.7L993.6,1494.2L997.1,1493.8L1000.7,1493.2L1004.3,1492.6L1007.9,1492.1L1011.4,1491.5L1015.0,1490.9L1018.6,1490.4L1022.1,1489.9L1025.7,1489.4L1029.3,1488.9L1032.9,1488.5L1036.4,1488.1L1040.0,1487.8L1043.5,1487.5L1047.0,1487.3L1050.5,1487.1L1054.3,1487.0L1057.6,1486.9L1061.1,1486.8L1064.7,1486.8L1068.4,1486.8L1072.1,1486.8L1075.7,1486.8L1079.3,1486.8L1082.9,1486.8L1086.5,1486.8L1090.1,1486.8L1093.7,1486.9L1097.1,1487.0L1100.9,1487.1L1104.4,1487.3L1108.0,1487.5L1111.7,1487.7L1115.7,1488.0L1119.0,1488.2L1122.4,1488.4L1126.1,1488.7L1129.8,1489.0L1133.6,1489.2L1137.4,1489.5L1141.2,1489.8L1145.0,1490.1L1148.6,1490.4L1152.2,1490.7L1155.9,1491.0L1159.4,1491.3L1163.0,1491.6L1166.5,1492.0L1170.0,1492.3L1173.6,1492.6L1177.1,1492.9L1180.7,1493.1L1184.3,1493.4L1187.9,1493.6L1191.4,1493.9L1195.0,1494.1L1198.6,1494.3L1202.1,1494.5L1205.7,1494.8L1209.3,1495.0L1212.9,1495.2L1216.4,1495.4L1220.0,1495.6L1223.6,1495.8L1227.1,1495.9L1230.7,1496.1L1234.3,1496.2L1237.9,1496.4L1241.4,1496.5L1245.0,1496.6L1248.6,1496.7L1252.1,1496.7L1255.7,1496.8L1259.3,1496.8L1262.9,1496.9L1266.4,1496.9L1269.9,1496.9L1273.3,1496.8L1276.8,1496.8L1280.3,1496.7L1283.9,1496.7L1287.6,1496.7L1291.4,1496.6L1295.0,1496.6L1298.7,1496.6L1302.5,1496.6L1306.4,1496.6L1310.3,1496.5L1314.3,1496.5L1318.3,1496.5L1322.4,1496.5L1326.4,1496.5L1330.4,1496.5L1334.3,1496.5L1338.2,1496.5L1342.2,1496.5L1346.2,1496.5L1350.2,1496.5L1354.3,1496.5L1358.2,1496.5L1362.2,1496.5L1366.1,1496.6L1369.9,1496.6L1373.6,1496.6L1377.1,1496.6L1381.0,1496.7L1384.9,1496.8L1388.6,1496.9L1392.3,1497.0L1395.8,1497.1L1399.2,1497.2L1402.5,1497.1L1405.7,1497.0L1409.3,1496.7L1412.5,1496.2L1415.6,1495.7L1418.9,1495.2L1422.9,1494.8L1426.0,1494.6L1429.4,1494.4L1433.1,1494.2L1437.0,1494.1L1441.0,1494.0L1445.2,1493.9L1449.4,1493.8L1453.7,1493.6L1458.0,1493.5L1462.3,1493.3L1466.4,1493.0L1470.5,1492.7L1474.1,1492.4L1477.8,1492.0L1481.5,1491.6L1485.2,1491.2L1488.8,1490.7L1492.5,1490.3L1496.2,1489.8L1499.8,1489.3L1503.5,1488.7L1507.1,1488.2L1510.8,1487.6L1514.4,1487.1L1518.1,1486.5L1521.8,1485.8L1525.6,1485.2L1529.5,1484.5L1533.3,1483.8L1537.2,1483.1L1541.1,1482.4L1544.9,1481.6L1548.6,1480.9L1552.3,1480.1L1555.9,1479.4L1559.3,1478.6L1562.6,1477.8L1565.7,1477.1L1569.6,1476.1L1573.2,1475.1L1576.6,1474.1L1579.8,1473.1L1583.0,1472.1L1586.2,1471.0L1589.5,1469.8L1593.0,1468.5L1596.4,1467.1L1599.8,1465.7L1603.2,1464.2L1606.6,1462.6L1610.0,1461.0L1613.3,1459.4L1616.4,1457.8L1619.4,1456.3L1622.4,1454.6L1625.4,1453.0L1628.3,1451.3L1631.3,1449.5L1634.2,1447.7L1637.1,1445.8L1640.2,1443.8L1643.2,1441.7L1646.2,1439.6L1649.2,1437.4L1652.2,1435.1L1655.1,1432.8L1658.0,1430.5L1661.0,1428.1L1663.7,1425.9L1666.4,1423.6L1669.1,1421.3L1671.7,1418.9L1674.4,1416.5L1677.0,1414.0L1679.6,1411.5L1682.2,1408.9L1684.8,1406.2L1687.0,1403.8L1689.2,1401.3L1691.4,1398.8L1693.6,1396.2L1695.8,1393.5L1697.9,1390.8L1700.1,1388.1L1702.2,1385.4L1704.3,1382.6L1706.5,1379.9L1708.6,1377.1L1710.6,1374.4L1712.6,1371.8L1714.6,1369.1L1716.6,1366.5L1718.6,1363.8L1720.6,1361.1L1722.6,1358.3L1724.6,1355.5L1726.5,1352.7L1728.5,1349.8L1730.4,1346.8L1732.4,1343.8L1734.1,1340.9L1735.9,1338.0L1737.7,1334.9L1739.5,1331.7L1741.3,1328.4L1743.1,1325.1L1744.9,1321.8L1746.7,1318.4L1748.4,1315.1L1750.1,1311.9L1751.8,1308.7L1753.4,1305.6L1754.9,1302.7L1756.4,1299.9L1757.7,1297.4L1759.0,1295.0L1760.7,1291.7L1762.3,1288.9L1763.7,1286.2L1765.0,1283.7L1766.3,1281.1L1767.7,1278.3L1769.0,1275.6L1770.3,1272.8L1771.7,1270.0L1773.0,1267.2L1774.3,1264.3L1775.6,1261.3L1776.9,1258.3L1778.2,1255.2L1779.5,1252.0L1780.8,1248.7L1782.1,1245.4L1783.4,1242.1L1784.7,1238.8L1786.0,1235.4L1787.2,1232.1L1788.4,1228.9L1789.6,1225.7L1790.7,1222.5L1791.9,1219.2L1793.0,1216.0L1794.2,1212.7L1795.3,1209.4L1796.4,1206.0L1797.4,1202.8L1798.5,1199.5L1799.5,1196.2L1800.6,1192.8L1801.6,1189.4L1802.6,1186.1L1803.6,1182.7L1804.6,1179.3L1805.6,1175.9L1806.5,1172.6L1807.4,1169.2L1808.3,1165.9L1809.2,1162.5L1810.1,1159.2L1811.0,1155.8L1811.8,1152.5L1812.7,1149.2L1813.6,1145.8L1814.5,1142.5L1815.4,1139.1L1816.3,1135.8L1817.2,1132.4L1818.1,1129.1L1819.0,1125.7L1819.9,1122.4L1820.8,1119.0L1821.6,1115.7L1822.4,1112.3L1823.2,1109.0L1824.0,1105.7L1824.8,1102.3L1825.5,1099.0L1826.3,1095.6L1827.0,1092.3L1827.8,1088.9L1828.5,1085.6L1829.2,1082.2L1830.0,1078.9L1830.7,1075.5L1831.5,1072.2L1832.2,1068.8L1832.9,1065.5L1833.6,1062.1L1834.3,1058.8L1834.9,1055.4L1835.6,1052.1L1836.1,1048.8L1836.7,1045.6L1837.3,1042.3L1837.8,1039.0L1838.3,1035.7L1838.9,1032.3L1839.4,1028.9L1840.0,1025.3L1840.5,1022.2L1841.0,1019.0L1841.5,1015.7L1842.1,1012.4L1842.6,1009.0L1843.1,1005.6L1843.7,1002.2L1844.2,998.8L1844.7,995.3L1845.2,991.9L1845.7,988.5L1846.2,985.2L1846.6,981.8L1847.1,978.3L1847.5,974.8L1847.9,971.3L1848.3,967.7L1848.7,964.2L1849.1,960.8L1849.5,957.4L1849.9,954.1L1850.3,950.9L1850.6,947.9L1851.0,945.0L1851.5,941.4L1852.0,938.1L1852.4,935.0L1852.9,932.0L1853.3,928.7L1853.8,925.0L1854.2,922.1L1854.6,918.9L1855.0,915.7L1855.4,912.2L1855.8,908.7L1856.2,905.1L1856.6,901.5L1857.1,897.8L1857.5,894.1L1857.9,890.5L1858.2,886.9L1858.6,883.3L1858.9,879.9L1859.2,876.4L1859.5,872.9L1859.8,869.4L1860.1,866.0L1860.4,862.5L1860.7,859.0L1860.9,855.6L1861.2,852.1L1861.4,848.6L1861.7,845.1L1861.9,841.7L1862.1,838.2L1862.4,834.7L1862.6,831.3L1862.8,827.8L1863.0,824.3L1863.2,820.8L1863.4,817.4L1863.6,813.9L1863.8,810.4L1863.9,806.9L1864.1,803.5L1864.3,800.0L1864.5,796.5L1864.6,793.1L1864.8,789.6L1864.9,786.1L1865.0,782.6L1865.2,779.2L1865.3,775.7L1865.4,772.2L1865.6,768.8L1865.7,765.3L1865.8,761.8L1866.0,758.3L1866.1,754.9L1866.2,751.4L1866.3,747.9L1866.5,744.4L1866.6,741.0L1866.7,737.5L1866.8,734.0L1866.9,730.6L1867.0,727.1L1867.2,723.6L1867.3,720.1L1867.4,716.7L1867.5,713.2L1867.6,709.8L1867.7,706.3L1867.8,702.9L1867.9,699.5L1868.0,696.1L1868.1,692.6L1868.2,689.2L1868.3,685.7L1868.4,682.1L1868.5,678.6L1868.6,675.0L1868.6,671.8L1868.7,668.6L1868.8,665.4L1868.9,662.2L1868.9,658.9L1869.0,655.6L1869.1,652.3L1869.1,649.0L1869.2,645.6L1869.2,642.3L1869.3,638.9L1869.4,635.6L1869.4,632.3L1869.5,628.9L1869.5,625.6L1869.6,622.3L1869.6,618.9L1869.7,615.6L1869.7,612.3L1869.8,609.0L1869.8,605.7L1869.9,602.4L1869.9,599.0L1869.9,595.7L1870.0,592.3L1870.0,588.9L1870.1,585.5L1870.1,582.0L1870.2,578.5L1870.2,575.0L1870.3,571.7L1870.4,568.3L1870.4,565.0L1870.5,561.6L1870.5,558.1L1870.6,554.7L1870.7,551.2L1870.7,547.7L1870.8,544.2L1870.9,540.6L1870.9,537.1L1871.0,533.6L1871.1,530.0L1871.2,526.5L1871.2,523.0L1871.3,519.5L1871.4,516.0L1871.4,512.5L1871.5,509.0L1871.6,505.6L1871.6,502.1L1871.7,498.6L1871.7,495.1L1871.8,491.7L1871.9,488.2L1871.9,484.7L1872.0,481.2L1872.1,477.8L1872.1,474.3L1872.2,470.8L1872.3,467.4L1872.3,463.9L1872.4,460.4L1872.5,456.9L1872.5,453.5L1872.6,450.0L1872.7,446.5L1872.8,443.0L1872.9,439.4L1872.9,435.9L1873.0,432.3L1873.1,428.7L1873.2,425.1L1873.3,421.5L1873.3,418.0L1873.4,414.4L1873.5,410.9L1873.6,407.4L1873.7,403.9L1873.8,400.5L1873.9,397.2L1874.0,393.9L1874.2,390.7L1874.3,387.5L1874.4,383.7L1874.6,380.1L1874.8,376.5L1875.0,373.0L1875.2,369.5L1875.4,366.1L1875.6,362.8L1875.8,359.4L1876.0,356.1L1876.2,352.7L1876.4,349.3L1876.7,345.8L1876.9,342.3L1877.1,338.7L1877.3,335.1L1877.6,331.4L1877.8,327.7L1878.0,324.1L1878.3,320.5L1878.5,317.0L1878.8,313.6L1879.1,310.3L1879.4,307.1L1879.8,304.2L1880.2,300.8L1880.7,297.7L1881.2,294.7L1881.8,291.9L1882.3,289.1L1882.8,286.2L1883.3,283.3L1883.8,280.4L1884.3,277.7L1884.8,274.9L1885.3,272.1L1885.8,269.2L1886.2,266.0L1886.6,262.5L1886.8,259.7L1887.0,256.7L1887.2,253.6L1887.3,250.2L1887.5,246.7L1887.6,243.1L1887.7,239.4L1887.8,235.7L1887.8,231.9L1887.9,228.1L1888.0,224.4L1888.0,220.7L1888.1,217.0L1888.2,213.5L1888.3,210.1L1888.4,206.9L1888.5,203.1L1888.6,199.4L1888.7,195.7L1888.8,192.1L1888.9,188.6L1889.1,185.1L1889.2,181.7L1889.3,178.4L1889.5,175.2L1889.6,172.2L1889.8,169.2L1890.1,165.2L1890.5,160.8L1890.8,156.7L1891.2,153.1L1891.6,150.7L1892.0,149.8L1892.3,150.7L1892.7,153.1L1893.1,156.7L1893.5,160.8L1893.8,165.2L1894.1,169.2L1894.3,172.2L1894.5,175.2L1894.6,178.4L1894.8,181.7L1894.9,185.1L1895.0,188.6L1895.1,192.1L1895.2,195.7L1895.3,199.4L1895.4,203.1L1895.6,206.9L1895.7,210.1L1895.8,213.4L1895.9,216.8L1896.0,220.2L1896.2,223.7L1896.3,227.3L1896.4,230.9L1896.6,234.5L1896.7,238.1L1896.8,241.7L1896.9,245.3L1897.1,248.9L1897.2,252.4L1897.3,255.8L1897.4,259.2L1897.5,262.5L1897.6,266.2L1897.8,269.8L1897.9,273.3L1898.0,276.8L1898.1,280.3L1898.2,283.7L1898.3,287.1L1898.4,290.5L1898.5,293.9L1898.6,297.3L1898.7,300.7L1898.8,304.2L1898.9,307.6L1899.0,311.1L1899.1,314.6L1899.2,318.1L1899.3,321.5L1899.4,325.0L1899.5,328.5L1899.6,331.9L1899.7,335.4L1899.8,338.9L1899.9,342.4L1900.0,345.8L1900.1,349.3L1900.2,352.8L1900.3,356.3L1900.4,359.7L1900.5,363.2L1900.6,366.7L1900.7,370.1L1900.8,373.6L1900.9,377.1L1901.0,380.6L1901.1,384.0L1901.2,387.5L1901.3,391.0L1901.4,394.4L1901.5,397.9L1901.6,401.4L1901.7,404.9L1901.8,408.3L1901.9,411.8L1902.0,415.3L1902.1,418.7L1902.2,422.2L1902.3,425.7L1902.4,429.2L1902.5,432.6L1902.5,436.1L1902.6,439.6L1902.6,443.1L1902.7,446.5L1902.8,450.0L1902.8,453.5L1902.9,456.9L1902.9,460.4L1903.0,463.9L1903.0,467.4L1903.1,470.8L1903.2,474.3L1903.2,477.8L1903.3,481.3L1903.4,484.7L1903.5,488.2L1903.5,491.7L1903.6,495.1L1903.7,498.6L1903.8,502.1L1903.9,505.6L1904.0,509.0L1904.0,512.5L1904.1,516.0L1904.2,519.6L1904.3,523.2L1904.4,526.8L1904.5,530.5L1904.6,534.1L1904.7,537.7L1904.8,541.2L1904.9,544.6L1905.0,547.9L1905.1,551.1L1905.2,554.2L1905.3,558.0L1905.4,561.8L1905.4,565.5L1905.5,568.9L1905.6,572.1L1905.9,574.9L1906.4,577.1L1907.8,579.2L1909.0,581.2L1909.5,583.5L1909.6,586.2L1909.6,589.2L1909.5,592.4L1909.5,595.8L1909.6,598.6L1909.6,601.6L1909.7,604.7L1909.7,607.9L1909.8,611.3L1909.8,614.7L1909.9,618.3L1909.9,621.9L1910.0,625.6L1910.0,628.5L1910.1,631.5L1910.1,634.6L1910.1,637.8L1910.2,640.9L1910.2,644.2L1910.2,647.5L1910.3,650.9L1910.3,654.2L1910.4,657.7L1910.4,661.1L1910.5,664.6L1910.6,668.0L1910.6,671.5L1910.7,675.0L1910.8,678.3L1910.9,681.6L1911.0,685.0L1911.1,688.4L1911.3,691.8L1911.4,695.3L1911.6,698.8L1911.7,702.3L1911.8,705.8L1912.0,709.3L1912.1,712.9L1912.3,716.4L1912.4,719.9L1912.6,723.5L1912.7,727.0L1912.9,730.5L1913.0,734.0L1913.1,737.5L1913.2,741.0L1913.3,744.4L1913.4,747.8L1913.5,751.2L1913.6,754.6L1913.7,758.0L1913.8,761.4L1913.9,764.8L1914.0,768.2L1914.1,771.6L1914.2,775.0L1914.3,778.5L1914.4,782.0L1914.5,785.5L1914.6,789.1L1914.6,792.7L1914.7,796.3L1914.8,800.0L1914.8,803.2L1914.9,806.5L1914.9,809.8L1914.9,813.2L1915.0,816.6L1915.0,820.0L1915.0,823.4L1915.0,826.8L1915.0,830.3L1915.0,833.8L1915.0,837.3L1915.1,840.8L1915.1,844.4L1915.1,847.9L1915.1,851.4L1915.1,855.0L1915.1,858.6L1915.1,862.1L1915.1,865.7L1915.1,869.2L1915.2,872.8L1915.2,876.3L1915.2,879.8L1915.2,883.3L1915.3,886.9L1915.3,890.7L1915.3,894.7L1915.4,898.9L1915.4,903.3L1915.5,907.8L1915.5,912.3L1915.5,916.9L1915.6,921.5L1915.6,926.1L1915.7,930.6L1915.7,935.1L1915.8,939.4L1915.8,943.6L1915.9,947.6L1915.9,951.3L1916.0,954.9L1916.0,958.1L1916.1,961.0L1916.1,963.5L1916.2,965.7L1916.3,967.4L1916.3,968.7L1916.4,969.5L1916.4,969.8L1916.5,969.5L1916.5,968.7L1916.6,967.4L1916.7,965.7L1916.7,963.5L1916.8,961.0L1916.9,958.1L1917.0,954.9L1917.0,951.4L1917.1,947.6L1917.2,943.6L1917.2,939.4L1917.3,935.1L1917.4,930.6L1917.5,926.1L1917.5,921.5L1917.6,916.9L1917.7,912.3L1917.7,907.8L1917.8,903.3L1917.9,898.9L1917.9,894.7L1918.0,890.7L1918.0,886.9L1918.1,883.3L1918.1,879.8L1918.2,876.3L1918.2,872.8L1918.3,869.2L1918.3,865.7L1918.4,862.1L1918.4,858.6L1918.5,855.0L1918.5,851.4L1918.5,847.9L1918.6,844.4L1918.6,840.8L1918.7,837.3L1918.7,833.8L1918.7,830.3L1918.8,826.8L1918.8,823.4L1918.8,820.0L1918.9,816.6L1918.9,813.2L1918.9,809.8L1919.0,806.5L1919.0,803.2L1919.0,800.0L1919.1,796.3L1919.1,792.7L1919.2,789.1L1919.2,785.5L1919.2,782.0L1919.3,778.5L1919.3,775.0L1919.3,771.6L1919.4,768.2L1919.4,764.8L1919.5,761.4L1919.5,758.0L1919.5,754.6L1919.6,751.2L1919.6,747.8L1919.7,744.4L1919.7,741.0L1919.8,737.5L1919.8,734.0L1919.9,730.5L1919.9,727.0L1920.0,723.5L1920.0,719.9L1920.1,716.4L1920.2,712.9L1920.2,709.3L1920.3,705.8L1920.3,702.3L1920.4,698.8L1920.5,695.3L1920.6,691.8L1920.6,688.4L1920.7,685.0L1920.8,681.6L1920.9,678.3L1921.0,675.0L1921.0,671.5L1921.1,668.1L1921.3,664.8L1921.4,661.4L1921.5,658.1L1921.6,654.9L1921.7,651.6L1921.8,648.4L1922.0,645.1L1922.1,641.9L1922.2,638.7L1922.3,635.4L1922.4,632.2L1922.5,628.9L1922.6,625.6L1922.7,622.3L1922.8,618.9L1922.9,615.6L1923.0,612.3L1923.1,609.0L1923.1,605.7L1923.2,602.4L1923.3,599.0L1923.4,595.7L1923.4,592.3L1923.5,588.9L1923.6,585.5L1923.7,582.0L1923.7,578.5L1923.8,575.0L1923.9,571.7L1924.0,568.3L1924.0,565.0L1924.1,561.6L1924.2,558.1L1924.2,554.7L1924.3,551.2L1924.4,547.7L1924.4,544.2L1924.5,540.6L1924.6,537.1L1924.6,533.6L1924.7,530.0L1924.8,526.5L1924.8,523.0L1924.9,519.5L1924.9,516.0L1925.0,512.5L1925.1,509.0L1925.1,505.5L1925.1,501.9L1925.2,498.4L1925.2,494.8L1925.3,491.2L1925.3,487.6L1925.3,484.0L1925.4,480.5L1925.4,476.9L1925.4,473.4L1925.5,469.9L1925.5,466.4L1925.5,463.0L1925.6,459.7L1925.6,456.4L1925.7,453.2L1925.7,450.0L1925.8,446.2L1925.9,442.6L1925.9,439.0L1926.0,435.5L1926.1,432.0L1926.2,428.6L1926.2,425.3L1926.3,421.9L1926.4,418.6L1926.5,415.2L1926.6,411.8L1926.7,408.3L1926.8,404.8L1926.8,401.2L1926.9,397.6L1927.0,394.0L1927.1,390.4L1927.2,386.7L1927.2,383.2L1927.3,379.7L1927.4,376.2L1927.6,372.9L1927.7,369.7L1927.9,366.7L1928.1,362.6L1928.3,358.2L1928.5,353.8L1928.8,349.7L1929.1,346.4L1929.4,344.2L1929.8,343.3L1930.2,344.2L1930.7,346.6L1931.2,350.0L1931.7,353.7L1932.1,357.3L1932.4,360.1L1932.7,363.1L1932.9,366.3L1933.0,369.7L1933.2,373.1L1933.3,376.6L1933.5,380.2L1933.6,383.9L1933.8,387.5L1934.0,390.7L1934.1,394.1L1934.3,397.4L1934.4,400.9L1934.6,404.4L1934.8,407.9L1934.9,411.5L1935.1,415.0L1935.2,418.6L1935.4,422.1L1935.6,425.7L1935.7,429.2L1935.9,432.6L1936.0,436.1L1936.2,439.6L1936.3,443.1L1936.5,446.5L1936.7,450.0L1936.8,453.5L1937.0,456.9L1937.1,460.4L1937.3,463.9L1937.5,467.4L1937.6,470.8L1937.8,474.3L1937.9,477.8L1938.1,481.2L1938.3,484.7L1938.4,488.2L1938.6,491.7L1938.7,495.1L1938.9,498.6L1939.1,502.1L1939.2,505.6L1939.4,509.0L1939.5,512.5L1939.7,516.0L1939.8,519.4L1940.0,522.9L1940.1,526.4L1940.3,529.9L1940.4,533.3L1940.5,536.8L1940.7,540.3L1940.8,543.7L1940.9,547.2L1941.1,550.7L1941.2,554.2L1941.3,557.6L1941.4,560.9L1941.5,564.1L1941.6,567.3L1941.8,570.4L1941.9,573.6L1942.0,576.9L1942.1,580.3L1942.1,583.9L1942.2,587.6L1942.3,591.6L1942.4,595.8L1942.4,598.4L1942.5,601.2L1942.5,604.0L1942.5,606.9L1942.6,609.9L1942.6,613.0L1942.6,616.1L1942.6,619.4L1942.7,622.7L1942.7,626.0L1942.7,629.5L1942.7,633.0L1942.7,636.5L1942.7,640.1L1942.7,643.7L1942.8,647.3L1942.8,651.0L1942.8,654.7L1942.8,658.5L1942.8,662.2L1942.8,666.0L1942.8,669.7L1942.8,673.5L1942.8,677.2L1942.8,681.0L1942.8,684.7L1942.8,688.4L1942.8,692.1L1942.8,695.7L1942.8,699.3L1942.8,702.9L1942.8,706.4L1942.8,709.9L1942.9,713.3L1942.9,716.7L1942.9,720.3L1942.9,723.8L1942.9,727.4L1942.9,730.9L1942.9,734.5L1942.9,738.0L1942.9,741.5L1942.9,745.0L1942.9,748.5L1942.9,752.0L1942.9,755.4L1942.9,758.9L1942.9,762.3L1942.9,765.8L1942.9,769.2L1942.9,772.7L1942.9,776.1L1942.9,779.5L1942.9,783.0L1942.9,786.4L1942.9,789.8L1942.9,793.3L1942.9,796.7L1942.9,800.1L1942.9,803.6L1942.9,807.0L1942.9,810.5L1942.9,813.9L1942.9,817.4L1942.9,820.8L1942.9,824.3L1942.9,827.8L1942.9,831.3L1942.9,834.8L1942.9,838.4L1942.9,841.9L1942.9,845.4L1942.9,849.0L1942.8,852.5L1942.8,856.1L1942.8,859.6L1942.8,863.2L1942.8,866.7L1942.8,870.2L1942.8,873.8L1942.8,877.3L1942.8,880.8L1942.8,884.3L1942.8,887.8L1942.8,891.3L1942.8,894.7L1942.8,898.2L1942.8,901.6L1942.8,905.0L1942.8,908.4L1942.8,911.8L1942.8,915.1L1942.8,918.4L1942.9,921.7L1942.9,925.0L1942.9,928.7L1942.9,932.4L1942.9,936.0L1942.9,939.6L1942.9,943.1L1942.9,946.7L1942.9,950.2L1942.9,953.7L1942.9,957.2L1942.9,960.6L1943.0,964.1L1943.0,967.5L1943.0,970.9L1943.0,974.3L1943.0,977.7L1943.0,981.2L1943.0,984.6L1943.0,988.0L1943.0,991.4L1943.1,994.9L1943.1,998.3L1943.1,1001.8L1943.1,1005.2L1943.1,1008.8L1943.1,1012.3L1943.1,1015.9L1943.1,1019.5L1943.1,1023.1L1943.1,1026.7L1943.1,1030.3L1943.1,1034.0L1943.1,1037.6L1943.1,1041.3L1943.1,1044.9L1943.1,1048.5L1943.1,1052.1L1943.1,1055.6L1943.1,1059.1L1943.1,1062.6L1943.1,1066.1L1943.1,1069.5L1943.1,1072.8L1943.1,1076.1L1943.1,1079.3L1943.1,1082.5L1943.1,1085.6L1943.1,1089.5L1943.0,1093.5L1943.0,1097.5L1943.0,1101.5L1942.9,1105.4L1942.9,1109.3L1942.9,1113.1L1942.8,1116.8L1942.8,1120.2L1942.8,1123.5L1942.8,1126.5L1942.9,1129.2L1943.0,1131.7L1943.1,1133.8L1943.2,1136.7L1943.4,1138.9L1944.0,1140.8L1945.2,1142.7L1946.7,1143.8L1949.2,1142.7L1951.8,1140.8L1954.0,1139.3L1956.4,1137.8L1959.8,1136.2L1963.3,1134.8L1965.7,1133.3L1967.9,1132.3L1969.6,1132.3L1971.3,1132.8L1973.6,1134.1L1976.0,1136.2L1978.2,1138.8L1979.8,1141.6L1981.2,1144.9L1982.5,1148.4L1983.9,1151.8L1985.2,1154.6L1986.6,1157.4L1988.0,1160.2L1989.4,1163.0L1990.8,1165.9L1992.2,1169.0L1993.6,1172.2L1995.0,1175.4L1996.3,1178.6L1997.7,1181.9L1998.9,1184.9L2000.0,1187.8L2001.2,1190.8L2002.3,1193.9L2003.5,1196.9L2004.6,1200.0L2005.7,1203.3L2006.9,1206.6L2008.0,1210.0L2009.2,1213.4L2010.3,1216.7L2011.5,1220.1L2012.6,1223.4L2013.8,1226.7L2015.0,1230.0L2016.1,1233.3L2017.3,1236.7L2018.3,1240.2L2019.2,1243.2L2020.0,1246.3L2020.8,1249.4L2021.6,1252.6L2022.3,1255.9L2023.1,1259.1L2023.9,1262.3L2024.8,1265.5L2025.8,1268.7L2026.8,1271.9L2027.8,1275.1L2028.8,1278.3L2029.9,1281.5L2030.9,1284.7L2032.0,1288.0L2033.0,1291.3L2034.0,1294.6L2034.9,1297.9L2035.9,1301.2L2036.9,1304.6L2037.8,1307.9L2038.8,1311.3L2039.7,1314.7L2040.7,1318.1L2041.6,1321.5L2042.6,1324.9L2043.6,1328.4L2044.6,1331.9L2045.6,1335.5L2046.6,1339.0L2047.5,1342.4L2048.5,1345.7L2049.4,1348.8L2050.2,1351.6L2051.4,1355.2L2052.5,1358.4L2053.5,1361.5L2054.7,1365.0L2055.5,1367.8L2056.4,1370.7L2057.4,1373.8L2058.3,1377.0L2059.3,1380.3L2060.3,1383.6L2061.3,1386.8L2062.3,1390.0L2063.3,1393.1L2064.3,1396.3L2065.4,1399.4L2066.5,1402.5L2067.5,1405.6L2068.6,1408.8L2069.7,1411.9L2070.9,1415.0L2072.0,1418.2L2073.1,1421.3L2074.3,1424.5L2075.4,1427.7L2076.6,1430.9L2077.8,1434.0L2079.1,1437.0L2080.4,1440.0L2081.8,1443.0L2083.2,1446.0L2084.7,1448.9L2086.2,1451.7L2087.7,1454.5L2089.3,1457.3L2090.9,1460.0L2092.7,1462.9L2094.5,1465.8L2096.4,1468.7L2098.3,1471.4L2100.3,1474.1L2102.3,1476.7L2104.5,1479.4L2106.7,1482.0L2109.0,1484.5L2111.3,1486.9L2113.7,1489.2L2116.5,1491.7L2119.3,1494.1L2122.2,1496.3L2125.1,1498.3L2127.9,1500.0L2130.7,1501.5L2133.6,1502.9L2136.6,1504.2L2139.8,1505.4L2143.1,1506.5L2146.5,1507.5L2149.9,1508.3L2153.5,1509.1L2157.2,1509.8L2161.0,1510.3L2165.1,1510.8L2168.3,1511.2L2171.5,1511.5L2174.9,1511.7L2178.4,1511.9L2182.1,1512.1L2185.9,1512.3L2189.9,1512.5L2193.3,1512.6L2196.7,1512.8L2200.2,1512.9L2203.9,1513.0L2207.6,1513.1L2211.5,1513.2L2215.4,1513.3L2219.6,1513.4L2223.8,1513.5L2228.2,1513.5L2232.8,1513.6L2237.5,1513.7L2240.7,1513.7L2243.9,1513.7L2247.3,1513.8L2250.8,1513.8L2254.3,1513.8L2258.0,1513.9L2261.7,1513.9L2265.5,1513.9L2269.4,1513.9L2273.3,1513.9L2277.3,1513.9L2281.3,1513.9L2285.4,1513.9L2289.5,1513.9L2293.7,1513.9L2297.8,1513.9L2302.0,1514.0L2306.3,1514.0L2310.5,1514.0L2314.7,1514.0L2318.9,1514.0L2323.1,1514.0L2327.3,1514.0L2331.5,1514.0L2335.6,1514.0L2339.8,1514.0L2343.8,1514.0L2347.8,1514.0L2351.8,1514.0"/>
<path class="cv" stroke="#008000" stroke-width="7" transform="scale(1 1.14286)" d="M286.4,1487.5L288.9,1485.2L291.5,1483.0L294.0,1480.7L296.5,1478.5L299.0,1476.1L301.4,1473.8L303.9,1471.2L306.3,1468.5L308.7,1465.8L311.0,1463.1L313.4,1460.3L315.7,1457.5L317.8,1455.1L319.8,1452.6L321.9,1450.1L323.9,1447.6L326.0,1445.1L328.0,1442.5L330.0,1440.0L332.1,1437.4L334.1,1434.7L336.1,1431.9L338.1,1429.2L340.2,1426.5L342.2,1423.8L344.3,1421.2L346.6,1418.4L349.1,1415.5L351.5,1412.7L353.9,1409.9L356.3,1407.4L358.6,1405.0L361.1,1402.5L363.6,1400.2L366.0,1398.1L368.6,1396.3L371.8,1394.2L375.2,1392.5L378.6,1391.2L381.4,1390.5L384.3,1390.1L387.1,1390.0L390.0,1390.3L392.9,1390.9L395.7,1391.9L398.6,1393.4L401.5,1395.3L404.3,1397.5L406.8,1399.7L409.3,1402.2L411.8,1404.8L414.3,1407.5L416.3,1409.9L418.4,1412.3L420.3,1414.9L422.3,1417.4L424.3,1420.0L426.3,1422.7L428.3,1425.5L430.3,1428.3L432.3,1431.0L434.3,1433.8L436.3,1436.3L438.2,1438.9L440.2,1441.4L442.2,1443.9L444.3,1446.2L446.7,1448.9L449.2,1451.5L451.7,1453.9L454.3,1456.2L456.7,1458.3L459.2,1460.4L461.8,1462.2L464.3,1463.8L467.2,1465.1L470.0,1466.1L472.9,1466.9L476.4,1467.7L480.0,1468.1L482.8,1468.0L485.7,1467.5L488.6,1466.9L491.9,1465.8L495.2,1464.5L498.6,1463.1L501.9,1461.6L505.2,1459.9L508.6,1458.1L511.4,1456.7L514.2,1455.3L517.1,1453.9L520.0,1452.5L522.8,1451.1L525.7,1449.6L528.5,1448.2L531.4,1446.9L534.2,1445.8L537.0,1444.9L539.9,1444.0L542.9,1443.1L546.3,1442.1L549.9,1441.1L553.5,1440.3L557.1,1439.7L560.7,1439.5L564.4,1439.5L568.0,1439.7L571.4,1440.0L575.4,1440.4L579.1,1441.0L582.9,1441.9L585.7,1442.8L588.6,1443.9L591.4,1445.1L594.3,1446.2L597.2,1447.4L600.0,1448.6L602.9,1449.9L605.7,1451.3L608.6,1452.7L611.4,1454.3L614.3,1455.9L617.1,1457.5L620.0,1459.1L622.9,1460.6L625.7,1462.2L628.6,1463.8L631.4,1465.3L634.3,1466.9L637.1,1468.5L640.0,1470.0L642.8,1471.5L645.7,1472.9L648.6,1474.3L651.4,1475.6L654.3,1476.9L657.1,1478.2L660.0,1479.5L662.9,1480.6L665.7,1481.7L668.5,1482.6L671.4,1483.5L674.3,1484.4L678.1,1485.3L681.9,1486.1L685.7,1486.9L689.5,1487.6L693.3,1488.2L697.1,1488.8L700.9,1489.1L704.8,1489.4L708.6,1489.6L712.4,1489.7L716.2,1489.8L720.0,1489.8L723.8,1489.6L727.5,1489.5L731.4,1489.4L734.9,1489.4L738.5,1489.4L742.1,1489.4L745.7,1489.4L749.3,1489.3L752.9,1489.1L756.4,1489.0L760.0,1488.8L763.6,1488.5L767.1,1488.2L770.7,1487.9L774.3,1487.5L777.9,1487.1L781.4,1486.7L785.0,1486.2L788.6,1485.6L792.2,1485.0L795.7,1484.2L799.3,1483.4L802.9,1482.5L806.4,1481.5L809.9,1480.5L813.5,1479.4L817.1,1478.1L820.1,1477.0L823.3,1475.9L826.4,1474.6L829.6,1473.3L832.7,1472.0L835.7,1470.6L839.0,1469.1L842.3,1467.5L845.5,1465.9L848.5,1464.2L851.4,1462.5L854.5,1460.4L857.3,1458.3L860.1,1456.0L862.9,1453.8L865.2,1451.8L867.5,1449.9L869.8,1447.9L872.0,1445.8L874.3,1443.8L876.6,1441.6L878.9,1439.3L881.2,1437.0L883.4,1434.8L885.7,1432.5L888.0,1430.2L890.3,1428.0L892.6,1425.7L894.9,1423.5L897.1,1421.2L899.7,1418.6L902.2,1416.0L904.7,1413.5L907.1,1411.2L910.0,1408.8L912.8,1406.7L915.7,1405.0L918.5,1404.0L921.5,1403.3L924.3,1403.1L927.9,1403.6L931.4,1404.8L934.3,1406.1L937.2,1407.9L940.0,1410.0L942.2,1411.9L944.4,1414.1L946.5,1416.4L948.6,1418.8L950.4,1421.0L952.1,1423.4L953.8,1425.9L955.5,1428.3L957.1,1430.6L958.9,1433.1L960.7,1435.6L962.4,1437.9L964.3,1440.0L966.6,1442.1L968.9,1443.9L971.4,1445.6L974.2,1447.2L977.1,1448.6L980.0,1450.0L982.9,1451.6L985.8,1453.2L988.6,1455.0L991.5,1457.2L994.3,1459.5L997.1,1461.9L1000.0,1464.2L1002.8,1466.5L1005.7,1468.8L1008.5,1470.9L1011.4,1473.1L1014.3,1475.0L1017.1,1476.6L1020.0,1478.1L1022.9,1479.4L1025.7,1480.5L1028.5,1481.6L1031.4,1482.5L1034.3,1483.2L1037.1,1483.8L1040.0,1484.4L1042.8,1484.9L1045.6,1485.3L1048.6,1485.6L1052.2,1485.9L1056.0,1486.0L1060.0,1486.0L1063.4,1486.0L1067.0,1485.9L1070.6,1485.8L1074.3,1485.6L1077.6,1485.5L1080.9,1485.4L1084.3,1485.3L1087.8,1485.1L1091.4,1485.0L1094.7,1484.9L1098.2,1484.8L1101.7,1484.7L1105.3,1484.6L1108.9,1484.5L1112.4,1484.5L1115.7,1484.4L1119.6,1484.3L1123.3,1484.1L1126.9,1484.0L1130.5,1484.0L1134.3,1484.0L1137.8,1484.1L1141.3,1484.3L1144.9,1484.5L1148.5,1484.7L1152.1,1485.0L1155.7,1485.2L1159.3,1485.5L1162.9,1485.8L1166.4,1486.2L1170.0,1486.5L1173.6,1486.9L1177.1,1487.3L1180.7,1487.6L1184.3,1488.0L1187.9,1488.5L1191.4,1488.9L1195.0,1489.3L1198.6,1489.8L1202.1,1490.2L1205.7,1490.7L1209.3,1491.1L1212.9,1491.6L1216.4,1492.1L1220.0,1492.5L1223.6,1492.9L1227.1,1493.4L1230.7,1493.8L1234.3,1494.2L1237.9,1494.6L1241.4,1495.0L1245.0,1495.3L1248.6,1495.6L1252.1,1495.8L1255.7,1496.1L1259.3,1496.3L1262.9,1496.5L1266.4,1496.7L1270.0,1496.9L1273.6,1497.1L1277.1,1497.2L1280.7,1497.4L1284.3,1497.5L1287.9,1497.6L1291.4,1497.7L1295.0,1497.7L1298.6,1497.8L1302.1,1497.8L1305.7,1497.9L1309.3,1497.9L1312.9,1497.9L1316.4,1497.9L1320.0,1497.9L1323.6,1497.9L1327.1,1497.9L1330.7,1497.8L1334.3,1497.8L1337.9,1497.7L1341.4,1497.7L1345.0,1497.6L1348.6,1497.5L1352.1,1497.4L1355.7,1497.2L1359.3,1497.1L1362.9,1496.9L1366.4,1496.7L1370.0,1496.5L1373.6,1496.3L1377.3,1496.0L1381.0,1495.8L1384.6,1495.5L1388.1,1495.3L1391.4,1495.0L1395.2,1494.7L1398.7,1494.4L1402.1,1494.1L1405.7,1493.8L1408.9,1493.5L1412.1,1493.2L1415.3,1492.9L1418.9,1492.5L1422.9,1492.1L1425.7,1491.7L1428.9,1491.4L1432.2,1490.9L1435.8,1490.5L1439.5,1490.0L1443.3,1489.5L1447.2,1488.9L1451.1,1488.4L1455.1,1487.8L1459.0,1487.2L1462.9,1486.6L1466.8,1486.0L1470.5,1485.4L1474.2,1484.8L1478.0,1484.1L1481.8,1483.4L1485.7,1482.7L1489.6,1481.9L1493.4,1481.1L1497.2,1480.4L1501.0,1479.6L1504.7,1478.8L1508.2,1478.1L1511.7,1477.4L1515.0,1476.7L1518.1,1476.0L1521.9,1475.3L1525.5,1474.5L1528.9,1473.8L1532.2,1473.1L1535.4,1472.4L1538.6,1471.7L1541.9,1470.8L1545.3,1469.9L1548.7,1469.0L1552.2,1468.0L1555.6,1467.0L1559.0,1465.9L1562.3,1464.7L1565.7,1463.5L1569.2,1462.3L1572.6,1460.9L1576.1,1459.6L1579.5,1458.1L1582.9,1456.6L1586.2,1454.9L1589.5,1453.1L1592.6,1451.2L1595.8,1449.2L1598.9,1447.1L1601.9,1444.8L1604.9,1442.5L1607.9,1440.2L1610.7,1437.8L1613.3,1435.4L1616.0,1432.9L1618.6,1430.3L1621.0,1427.7L1623.4,1425.1L1625.6,1422.4L1627.8,1419.6L1630.0,1416.7L1632.0,1413.8L1633.9,1410.8L1635.8,1407.8L1637.6,1404.6L1639.3,1401.4L1641.0,1398.2L1642.7,1395.0L1644.3,1391.7L1645.8,1388.6L1647.2,1385.4L1648.6,1382.2L1649.9,1378.9L1651.2,1375.6L1652.5,1372.4L1653.8,1369.1L1655.0,1365.8L1656.2,1362.5L1657.3,1359.3L1658.4,1356.1L1659.5,1352.9L1660.5,1349.8L1661.5,1346.6L1662.6,1343.4L1663.6,1340.1L1664.6,1336.8L1665.7,1333.3L1666.7,1330.3L1667.7,1327.2L1668.8,1324.0L1669.8,1320.8L1670.9,1317.5L1672.0,1314.2L1673.0,1310.9L1674.1,1307.6L1675.1,1304.3L1676.0,1301.1L1676.9,1298.0L1677.7,1295.0L1678.6,1291.6L1679.4,1288.4L1680.1,1285.2L1680.8,1282.0L1681.4,1278.9L1682.0,1275.8L1682.7,1272.6L1683.3,1269.5L1683.9,1266.3L1684.6,1263.0L1685.2,1259.6L1685.9,1256.3L1686.5,1253.0L1687.2,1249.6L1687.8,1246.2L1688.4,1242.9L1689.0,1239.5L1689.7,1236.2L1690.3,1232.8L1691.0,1229.5L1691.6,1226.1L1692.2,1222.8L1692.9,1219.4L1693.5,1216.1L1694.2,1212.7L1694.8,1209.4L1695.4,1206.0L1696.0,1202.7L1696.6,1199.4L1697.2,1196.2L1697.8,1192.9L1698.4,1189.6L1699.0,1186.3L1699.6,1182.9L1700.1,1179.5L1700.7,1175.9L1701.1,1172.8L1701.6,1169.6L1702.0,1166.3L1702.5,1163.0L1702.9,1159.6L1703.3,1156.2L1703.7,1152.8L1704.1,1149.4L1704.5,1145.9L1704.9,1142.5L1705.3,1139.1L1705.7,1135.8L1706.1,1132.4L1706.5,1129.1L1706.9,1125.8L1707.3,1122.5L1707.7,1119.3L1708.1,1116.0L1708.5,1112.7L1708.8,1109.3L1709.2,1106.0L1709.6,1102.6L1710.0,1099.1L1710.3,1095.6L1710.6,1092.4L1711.0,1089.2L1711.3,1085.9L1711.6,1082.6L1711.9,1079.3L1712.2,1075.9L1712.5,1072.5L1712.8,1069.2L1713.1,1065.8L1713.4,1062.3L1713.7,1058.9L1714.0,1055.5L1714.3,1052.1L1714.6,1048.8L1714.9,1045.4L1715.2,1042.1L1715.5,1038.7L1715.8,1035.4L1716.1,1032.1L1716.5,1028.8L1716.8,1025.4L1717.1,1022.1L1717.4,1018.8L1717.7,1015.4L1718.0,1012.1L1718.3,1008.8L1718.6,1005.4L1718.9,1002.0L1719.2,998.6L1719.5,995.2L1719.8,991.8L1720.1,988.4L1720.3,984.9L1720.6,981.3L1720.8,977.8L1721.1,974.2L1721.4,970.6L1721.6,967.1L1721.9,963.5L1722.1,960.0L1722.4,956.6L1722.7,953.1L1722.9,949.8L1723.2,946.5L1723.4,943.3L1723.7,940.2L1724.0,936.7L1724.4,933.2L1724.7,929.8L1725.0,926.5L1725.3,923.2L1725.7,920.0L1726.0,916.9L1726.3,913.8L1726.7,910.9L1727.0,908.0L1727.4,905.2L1727.8,901.4L1728.3,897.7L1728.7,894.1L1729.2,890.8L1729.8,887.7L1730.5,885.0L1731.5,881.7L1732.7,878.9L1733.8,877.7L1734.8,879.0L1735.9,881.7L1736.9,884.6L1737.9,887.3L1739.0,890.1L1740.5,892.5L1742.5,894.3L1745.0,895.7L1747.6,896.7L1750.6,897.2L1753.8,897.3L1757.1,897.1L1760.1,896.7L1763.1,896.1L1766.1,895.2L1769.0,894.2L1772.1,892.7L1775.0,891.0L1778.0,889.2L1781.0,887.5L1783.9,885.9L1786.9,884.4L1789.9,882.9L1792.9,881.5L1795.8,880.2L1798.8,879.0L1801.8,877.9L1804.8,876.9L1807.7,876.1L1810.7,875.5L1813.7,874.9L1816.7,874.2L1819.7,873.2L1822.7,872.1L1825.7,871.1L1828.6,870.2L1831.8,869.3L1835.0,868.5L1838.1,868.3L1841.3,869.1L1844.4,870.4L1847.6,872.1L1850.6,873.8L1853.7,875.7L1856.7,877.8L1859.5,880.0L1862.1,882.2L1864.6,884.5L1866.9,887.0L1869.0,889.6L1871.1,892.5L1872.8,895.5L1874.5,898.7L1876.2,902.1L1877.5,904.7L1878.7,907.4L1880.0,910.2L1881.2,913.0L1882.3,915.9L1883.3,918.8L1884.3,921.8L1885.2,925.0L1886.0,928.2L1886.7,931.4L1887.4,934.5L1888.1,937.5L1888.8,940.9L1889.4,944.2L1890.1,947.4L1891.0,950.6L1892.0,953.4L1893.2,956.2L1894.4,959.1L1895.7,962.0L1896.7,965.1L1897.6,968.1L1898.4,971.1L1899.1,974.2L1899.7,977.5L1900.3,981.1L1900.8,985.2L1901.1,987.7L1901.3,990.4L1901.5,993.3L1901.7,996.4L1901.8,999.5L1901.9,1002.8L1902.0,1006.2L1902.1,1009.7L1902.2,1013.2L1902.2,1016.8L1902.2,1020.5L1902.3,1024.1L1902.3,1027.8L1902.3,1031.4L1902.3,1035.0L1902.4,1038.5L1902.4,1042.0L1902.5,1045.4L1902.5,1048.8L1902.6,1052.2L1902.6,1055.6L1902.6,1059.0L1902.7,1062.5L1902.7,1065.9L1902.7,1069.4L1902.7,1072.8L1902.7,1076.3L1902.7,1079.7L1902.8,1083.1L1902.8,1086.5L1902.8,1089.8L1902.8,1093.1L1902.8,1096.3L1902.9,1099.5L1902.9,1102.6L1902.9,1105.6L1903.0,1109.3L1903.0,1112.8L1903.0,1116.3L1903.1,1119.6L1903.1,1123.0L1903.1,1126.2L1903.2,1129.5L1903.2,1132.7L1903.3,1136.0L1903.4,1139.2L1903.5,1142.5L1903.6,1145.8L1903.7,1149.2L1903.9,1152.5L1904.1,1155.8L1904.2,1159.2L1904.4,1162.5L1904.6,1165.9L1904.8,1169.2L1905.1,1172.6L1905.3,1175.9L1905.5,1179.3L1905.7,1182.6L1905.9,1186.0L1906.1,1189.3L1906.3,1192.6L1906.5,1196.0L1906.7,1199.3L1907.0,1202.6L1907.2,1206.0L1907.4,1209.3L1907.6,1212.6L1907.8,1216.0L1908.0,1219.4L1908.2,1222.7L1908.4,1226.1L1908.6,1229.4L1908.7,1232.7L1908.8,1236.0L1908.9,1239.4L1909.0,1242.8L1909.0,1246.1L1909.1,1249.5L1909.2,1252.9L1909.4,1256.2L1909.5,1259.4L1909.7,1262.6L1910.0,1265.7L1910.3,1268.8L1910.7,1272.4L1911.2,1275.9L1911.7,1279.4L1912.2,1282.8L1912.8,1286.1L1913.5,1289.4L1914.2,1292.6L1915.0,1295.8L1916.0,1298.9L1917.2,1302.3L1918.5,1305.6L1920.0,1308.9L1921.5,1312.0L1923.1,1315.1L1924.7,1318.3L1926.3,1321.5L1927.7,1324.3L1929.2,1327.1L1930.8,1329.9L1932.3,1332.8L1933.9,1335.6L1935.4,1338.4L1936.9,1341.2L1938.3,1344.1L1939.9,1347.3L1941.4,1350.5L1942.9,1353.7L1944.3,1356.9L1945.8,1360.2L1947.2,1363.4L1948.7,1366.6L1950.1,1369.9L1951.6,1373.1L1953.1,1376.3L1954.6,1379.6L1956.1,1382.8L1957.5,1386.0L1959.0,1389.2L1960.5,1392.5L1961.9,1395.7L1963.4,1399.0L1964.9,1402.3L1966.3,1405.5L1967.8,1408.7L1969.3,1411.8L1970.8,1414.7L1972.2,1417.6L1973.7,1420.4L1975.1,1423.2L1976.6,1426.0L1978.1,1428.7L1979.7,1431.4L1981.3,1434.3L1983.0,1437.1L1984.7,1439.9L1986.4,1442.6L1988.1,1445.3L1990.0,1448.0L1991.9,1450.6L1993.8,1453.1L1995.9,1455.6L1997.9,1458.1L2000.0,1460.6L2002.0,1463.0L2004.4,1465.8L2006.7,1468.6L2009.1,1471.3L2011.5,1474.0L2014.1,1476.6L2016.7,1479.1L2019.3,1481.5L2022.0,1483.9L2024.9,1486.2L2027.9,1488.4L2030.9,1490.4L2033.9,1492.3L2037.1,1494.2L2040.4,1496.0L2043.7,1497.7L2047.0,1499.2L2050.2,1500.4L2053.3,1501.5L2056.5,1502.5L2059.7,1503.4L2062.9,1504.2L2066.1,1505.0L2069.9,1505.8L2073.7,1506.6L2077.5,1507.2L2081.3,1507.8L2085.1,1508.3L2088.9,1508.8L2092.8,1509.3L2096.6,1509.6L2100.4,1510.0L2104.2,1510.3L2107.9,1510.6L2111.5,1510.9L2115.1,1511.2L2119.0,1511.4L2123.2,1511.7L2126.5,1511.8L2129.9,1512.0L2133.5,1512.1L2137.2,1512.3L2141.0,1512.4L2144.9,1512.5L2148.9,1512.7L2153.0,1512.8L2157.2,1512.9L2161.3,1513.0L2164.8,1513.1L2168.2,1513.2L2171.6,1513.2L2175.1,1513.3L2178.6,1513.4L2182.2,1513.4L2185.8,1513.5L2189.6,1513.5L2193.3,1513.6L2197.2,1513.6L2201.2,1513.7L2205.3,1513.7L2209.6,1513.8L2213.9,1513.8L2218.5,1513.8L2221.6,1513.9L2224.9,1513.9L2228.2,1513.9L2231.6,1513.9L2235.1,1513.9L2238.7,1514.0L2242.3,1514.0L2246.0,1514.0L2249.8,1514.0L2253.6,1514.0L2257.5,1514.0L2261.4,1514.0L2265.4,1514.0L2269.4,1514.1L2273.5,1514.1L2277.6,1514.1L2281.7,1514.1L2285.8,1514.1L2290.0,1514.1L2294.1,1514.1L2298.3,1514.1L2302.5,1514.1L2306.7,1514.1L2310.9,1514.1L2315.1,1514.1L2319.3,1514.1L2323.4,1514.1L2327.6,1514.1L2331.7,1514.1L2335.8,1514.1L2339.8,1514.1L2343.9,1514.1L2347.9,1514.2L2351.8,1514.2"/>
<path class="cv" stroke="#000000" stroke-width="7" transform="scale(1 1.14286)" d="M286.4,1503.1L288.1,1501.8L290.0,1500.6L292.5,1499.7L295.5,1498.8L298.6,1498.1L301.8,1497.5L305.1,1496.9L308.6,1496.5L312.3,1496.1L316.2,1495.8L320.0,1495.6L323.8,1495.6L327.6,1495.8L331.4,1496.0L335.2,1496.2L339.1,1496.5L342.9,1496.9L346.7,1497.4L350.5,1497.9L354.3,1498.5L358.0,1499.1L361.8,1499.6L365.7,1500.3L369.2,1500.8L372.8,1501.4L376.4,1501.9L380.0,1502.5L383.6,1503.1L387.1,1503.7L390.7,1504.2L394.3,1504.8L397.9,1505.2L401.4,1505.7L405.0,1506.1L408.6,1506.5L412.1,1506.9L415.7,1507.3L419.3,1507.7L422.9,1508.1L426.3,1508.5L429.7,1508.8L433.2,1509.1L437.1,1509.4L440.2,1509.6L443.5,1509.7L446.9,1509.9L450.5,1510.1L454.1,1510.2L457.9,1510.4L461.8,1510.5L465.7,1510.6L469.3,1510.7L472.9,1510.8L476.6,1510.9L480.4,1510.9L484.3,1511.0L488.2,1511.0L492.2,1511.1L496.2,1511.1L500.3,1511.2L504.4,1511.2L508.6,1511.2L512.1,1511.3L515.8,1511.3L519.5,1511.4L523.3,1511.4L527.1,1511.5L531.0,1511.5L534.9,1511.6L538.8,1511.6L542.7,1511.6L546.6,1511.6L550.5,1511.6L554.3,1511.6L558.2,1511.6L562.0,1511.6L565.7,1511.5L569.7,1511.4L573.6,1511.3L577.4,1511.1L581.1,1510.9L584.8,1510.7L588.5,1510.5L592.2,1510.2L596.0,1510.0L599.9,1509.8L603.9,1509.6L608.1,1509.4L612.5,1509.2L617.1,1509.1L620.4,1509.1L623.8,1509.0L627.5,1508.9L631.2,1508.9L635.1,1508.8L639.1,1508.8L643.3,1508.8L647.5,1508.7L651.8,1508.7L656.2,1508.7L660.6,1508.7L665.1,1508.7L669.5,1508.7L674.0,1508.7L678.5,1508.7L682.9,1508.7L687.3,1508.7L691.6,1508.7L695.9,1508.8L700.1,1508.8L704.2,1508.8L708.1,1508.9L712.0,1508.9L715.7,1509.0L719.2,1509.1L722.6,1509.1L725.7,1509.2L728.7,1509.3L731.4,1509.4L735.8,1509.6L739.6,1509.8L742.9,1510.0L746.0,1510.3L749.0,1510.6L752.3,1510.8L755.8,1511.1L760.0,1511.2L763.0,1511.3L766.1,1511.4L769.4,1511.5L772.8,1511.6L776.3,1511.6L779.9,1511.6L783.6,1511.7L787.4,1511.7L791.4,1511.7L795.4,1511.7L799.4,1511.7L803.6,1511.7L807.8,1511.7L812.0,1511.7L816.4,1511.7L820.7,1511.7L825.1,1511.7L829.5,1511.7L833.9,1511.7L838.4,1511.7L842.9,1511.8L846.3,1511.8L849.7,1511.8L853.2,1511.8L856.8,1511.8L860.4,1511.8L864.0,1511.8L867.7,1511.8L871.4,1511.9L875.2,1511.9L879.0,1511.9L882.8,1511.9L886.7,1511.9L890.6,1511.9L894.5,1511.9L898.4,1511.9L902.4,1512.0L906.4,1512.0L910.4,1512.0L914.4,1512.0L918.4,1512.0L922.4,1512.0L926.5,1512.0L930.5,1512.0L934.6,1512.0L938.6,1512.0L942.7,1512.1L946.8,1512.1L950.8,1512.1L954.9,1512.1L958.9,1512.1L962.9,1512.1L966.9,1512.1L971.0,1512.1L974.9,1512.1L978.9,1512.1L982.9,1512.1L986.8,1512.1L990.8,1512.1L994.9,1512.1L998.9,1512.1L1003.1,1512.1L1007.2,1512.1L1011.4,1512.1L1015.6,1512.2L1019.8,1512.2L1024.0,1512.2L1028.3,1512.2L1032.6,1512.2L1036.8,1512.2L1041.1,1512.2L1045.3,1512.2L1049.6,1512.2L1053.8,1512.2L1058.0,1512.1L1062.3,1512.1L1066.4,1512.1L1070.6,1512.1L1074.7,1512.1L1078.8,1512.1L1082.8,1512.1L1086.8,1512.1L1090.8,1512.1L1094.7,1512.1L1098.5,1512.1L1102.3,1512.1L1106.0,1512.1L1109.7,1512.1L1113.3,1512.1L1116.8,1512.1L1120.2,1512.1L1123.6,1512.1L1126.8,1512.1L1130.0,1512.1L1134.5,1512.1L1138.8,1512.1L1142.9,1512.1L1146.9,1512.1L1150.6,1512.1L1154.3,1512.1L1157.9,1512.1L1161.4,1512.1L1164.9,1512.1L1168.5,1512.1L1172.0,1512.1L1175.6,1512.1L1179.4,1512.1L1183.2,1512.1L1187.2,1512.1L1191.4,1512.1L1194.9,1512.1L1198.4,1512.1L1202.0,1512.1L1205.8,1512.1L1209.6,1512.1L1213.4,1512.1L1217.3,1512.1L1221.3,1512.2L1225.3,1512.2L1229.4,1512.2L1233.5,1512.2L1237.6,1512.2L1241.7,1512.2L1245.7,1512.2L1249.8,1512.2L1253.9,1512.2L1257.9,1512.2L1261.9,1512.2L1265.9,1512.2L1269.8,1512.2L1273.6,1512.2L1277.3,1512.2L1281.0,1512.2L1284.6,1512.2L1288.1,1512.1L1291.4,1512.1L1295.7,1512.1L1300.0,1512.1L1304.2,1512.1L1308.3,1512.1L1312.4,1512.1L1316.4,1512.1L1320.3,1512.1L1324.1,1512.0L1327.9,1512.0L1331.6,1512.0L1335.2,1511.9L1338.7,1511.9L1342.1,1511.8L1345.4,1511.6L1348.6,1511.5L1352.6,1511.3L1356.4,1511.0L1360.0,1510.7L1363.5,1510.3L1366.9,1510.0L1370.2,1509.6L1373.6,1509.3L1377.1,1509.0L1380.8,1508.7L1384.5,1508.5L1388.2,1508.2L1391.9,1508.0L1395.5,1507.8L1399.1,1507.5L1402.5,1507.3L1405.7,1507.0L1409.3,1506.7L1412.5,1506.3L1415.6,1506.0L1419.0,1505.6L1422.9,1505.2L1426.0,1504.9L1429.4,1504.5L1433.1,1504.2L1437.0,1503.8L1441.0,1503.4L1445.2,1503.0L1449.5,1502.6L1453.8,1502.1L1458.0,1501.7L1462.3,1501.1L1466.4,1500.6L1470.5,1500.0L1474.2,1499.4L1478.0,1498.8L1481.8,1498.1L1485.7,1497.4L1489.6,1496.7L1493.4,1495.9L1497.3,1495.1L1501.0,1494.4L1504.7,1493.6L1508.3,1492.8L1511.7,1492.1L1515.0,1491.3L1518.1,1490.6L1521.9,1489.7L1525.5,1488.9L1528.9,1488.1L1532.2,1487.2L1535.4,1486.4L1538.6,1485.4L1541.9,1484.4L1545.3,1483.2L1548.8,1482.0L1552.2,1480.7L1555.6,1479.4L1559.0,1478.0L1562.4,1476.5L1565.7,1475.0L1569.2,1473.4L1572.6,1471.7L1576.0,1470.0L1579.4,1468.2L1582.8,1466.4L1586.2,1464.5L1589.5,1462.5L1592.6,1460.6L1595.6,1458.7L1598.6,1456.8L1601.6,1454.7L1604.6,1452.7L1607.6,1450.5L1610.5,1448.2L1613.3,1445.8L1615.8,1443.6L1618.3,1441.3L1620.8,1439.0L1623.3,1436.5L1625.7,1434.0L1628.1,1431.4L1630.5,1428.8L1632.7,1426.2L1635.0,1423.5L1637.1,1420.8L1639.3,1418.1L1641.3,1415.3L1643.3,1412.5L1645.3,1409.6L1647.2,1406.7L1649.0,1403.7L1650.9,1400.7L1652.7,1397.7L1654.4,1394.7L1656.2,1391.7L1657.8,1388.7L1659.5,1385.7L1661.1,1382.7L1662.6,1379.6L1664.2,1376.5L1665.7,1373.4L1667.2,1370.3L1668.7,1367.3L1670.1,1364.2L1671.5,1361.3L1672.9,1358.3L1674.3,1355.2L1675.7,1352.2L1677.0,1349.3L1678.3,1346.4L1679.6,1343.4L1680.9,1340.5L1682.1,1337.5L1683.4,1334.4L1684.8,1331.2L1686.1,1328.1L1687.4,1324.9L1688.8,1321.5L1690.2,1318.1L1691.6,1314.7L1692.9,1311.2L1694.3,1307.8L1695.5,1304.5L1696.7,1301.2L1697.8,1298.0L1698.8,1295.0L1699.9,1291.5L1700.8,1288.2L1701.6,1285.0L1702.3,1281.9L1703.0,1278.8L1703.8,1275.6L1704.6,1272.3L1705.4,1269.1L1706.3,1266.0L1707.1,1262.7L1708.0,1259.5L1708.9,1256.2L1709.8,1252.9L1710.6,1249.6L1711.5,1246.2L1712.3,1243.0L1713.1,1239.7L1713.9,1236.5L1714.7,1233.2L1715.5,1229.9L1716.2,1226.5L1717.0,1223.1L1717.7,1219.6L1718.4,1216.1L1718.9,1212.9L1719.4,1209.7L1719.9,1206.5L1720.4,1203.1L1720.8,1199.8L1721.3,1196.4L1721.7,1193.0L1722.1,1189.5L1722.5,1186.1L1722.9,1182.7L1723.2,1179.3L1723.6,1175.9L1724.0,1172.6L1724.4,1169.2L1724.7,1165.9L1725.1,1162.5L1725.4,1159.2L1725.7,1155.8L1726.0,1152.5L1726.3,1149.2L1726.6,1145.8L1726.9,1142.5L1727.2,1139.1L1727.5,1135.8L1727.8,1132.4L1728.1,1129.1L1728.4,1125.8L1728.7,1122.5L1729.0,1119.3L1729.3,1116.0L1729.5,1112.7L1729.8,1109.3L1730.1,1106.0L1730.4,1102.6L1730.7,1099.1L1731.0,1095.6L1731.2,1092.4L1731.5,1089.2L1731.8,1085.9L1732.1,1082.6L1732.3,1079.3L1732.6,1075.9L1732.9,1072.5L1733.2,1069.2L1733.5,1065.8L1733.7,1062.3L1734.0,1058.9L1734.3,1055.5L1734.6,1052.1L1734.8,1048.8L1735.1,1045.4L1735.4,1042.1L1735.7,1038.7L1735.9,1035.4L1736.2,1032.0L1736.5,1028.7L1736.8,1025.3L1737.0,1022.0L1737.3,1018.6L1737.6,1015.3L1737.8,1011.9L1738.1,1008.6L1738.3,1005.2L1738.6,1001.9L1738.8,998.5L1739.0,995.2L1739.2,991.8L1739.4,988.3L1739.6,984.8L1739.8,981.2L1739.9,977.6L1740.1,974.0L1740.2,970.5L1740.4,966.9L1740.5,963.4L1740.7,960.1L1740.8,956.8L1740.9,953.6L1741.0,950.6L1741.2,947.7L1741.3,945.0L1741.5,941.3L1741.7,938.1L1741.8,935.1L1742.0,932.2L1742.2,928.9L1742.4,925.0L1742.5,922.4L1742.6,919.6L1742.7,916.6L1742.9,913.4L1743.0,910.2L1743.1,906.7L1743.3,903.2L1743.4,899.6L1743.5,895.9L1743.7,892.2L1743.8,888.4L1743.9,884.6L1744.1,880.8L1744.2,877.1L1744.4,873.3L1744.5,869.6L1744.6,866.0L1744.8,862.5L1744.9,859.0L1745.0,855.6L1745.2,852.1L1745.3,848.6L1745.4,845.1L1745.5,841.7L1745.7,838.2L1745.8,834.7L1745.9,831.2L1746.1,827.8L1746.2,824.3L1746.3,820.8L1746.4,817.4L1746.6,813.9L1746.7,810.4L1746.9,806.9L1747.0,803.5L1747.1,800.0L1747.3,796.5L1747.4,793.0L1747.6,789.5L1747.7,786.0L1747.9,782.5L1748.0,779.0L1748.2,775.4L1748.3,771.9L1748.5,768.4L1748.6,764.9L1748.8,761.4L1748.9,757.9L1749.1,754.4L1749.3,751.0L1749.5,747.6L1749.6,744.2L1749.8,740.8L1750.0,737.5L1750.2,733.8L1750.4,730.2L1750.6,726.5L1750.8,722.8L1751.1,719.1L1751.3,715.4L1751.5,711.8L1751.7,708.2L1752.0,704.7L1752.2,701.2L1752.5,697.8L1752.7,694.5L1753.0,691.4L1753.3,688.3L1753.6,685.4L1753.9,681.7L1754.2,678.1L1754.5,674.7L1754.8,671.3L1755.2,668.2L1755.7,665.3L1756.3,662.7L1757.1,660.4L1758.9,657.1L1760.9,654.4L1763.1,653.1L1765.5,653.8L1768.1,655.8L1770.2,658.3L1771.5,660.9L1772.3,664.1L1772.8,667.6L1773.3,671.3L1773.8,675.0L1774.3,677.9L1774.8,680.8L1775.2,683.9L1775.7,687.1L1776.1,690.3L1776.5,693.5L1777.0,696.7L1777.4,700.0L1777.8,703.1L1778.2,706.3L1778.5,709.6L1778.9,712.8L1779.3,716.1L1779.7,719.4L1780.1,722.6L1780.5,725.9L1781.0,729.2L1781.4,732.4L1781.9,735.7L1782.4,739.0L1783.0,742.3L1783.5,745.5L1784.1,748.8L1784.6,752.0L1785.2,755.2L1785.7,758.3L1786.3,761.6L1786.8,764.9L1787.4,768.2L1788.0,771.4L1788.6,774.6L1789.2,777.6L1789.8,780.6L1790.5,783.3L1791.3,786.7L1792.1,789.9L1792.9,793.0L1794.0,795.7L1795.2,797.9L1798.0,800.9L1801.2,802.5L1803.8,802.1L1806.7,800.7L1809.5,799.0L1812.0,797.0L1814.4,794.7L1816.7,792.2L1819.0,789.6L1821.0,787.2L1822.9,784.7L1824.8,782.1L1826.7,779.6L1828.6,777.1L1830.5,774.7L1832.5,772.3L1834.4,770.0L1836.3,767.7L1838.1,765.6L1840.1,762.6L1841.9,759.9L1844.0,758.3L1847.7,759.1L1851.2,761.5L1853.2,764.0L1854.7,767.2L1856.0,770.8L1856.7,773.5L1857.4,776.4L1858.0,779.5L1858.5,782.7L1859.0,786.1L1859.5,789.6L1860.0,792.7L1860.4,796.0L1860.8,799.4L1861.1,802.9L1861.5,806.5L1861.9,810.1L1862.2,813.7L1862.7,817.3L1863.1,820.8L1863.5,824.0L1864.0,827.1L1864.4,830.2L1864.9,833.3L1865.3,836.5L1865.8,839.6L1866.3,842.7L1866.8,845.8L1867.3,849.0L1867.9,852.1L1868.4,855.2L1868.9,858.4L1869.5,861.5L1870.1,864.7L1870.7,867.9L1871.2,871.0L1871.9,874.1L1872.5,877.2L1873.1,880.3L1873.8,883.3L1874.6,886.8L1875.5,890.3L1876.3,893.8L1877.2,897.2L1878.1,900.6L1879.1,904.0L1880.0,907.2L1881.0,910.4L1881.9,913.6L1883.0,916.6L1884.0,919.6L1885.1,922.6L1886.1,925.5L1887.1,928.4L1888.1,931.2L1889.1,934.3L1890.1,937.3L1891.1,940.3L1892.0,943.3L1892.9,946.4L1893.9,949.6L1894.8,952.5L1895.7,955.5L1896.7,958.4L1897.7,961.5L1898.6,964.7L1899.4,968.0L1900.2,971.5L1900.8,975.1L1901.2,978.0L1901.6,980.9L1901.8,984.0L1902.0,987.1L1902.2,990.4L1902.3,993.7L1902.4,997.1L1902.4,1000.6L1902.5,1004.1L1902.5,1007.6L1902.5,1011.2L1902.5,1014.7L1902.6,1018.3L1902.6,1021.8L1902.7,1025.3L1902.8,1028.5L1902.8,1031.8L1902.9,1035.0L1902.9,1038.3L1903.0,1041.7L1903.0,1045.0L1903.0,1048.3L1903.1,1051.7L1903.1,1055.1L1903.1,1058.5L1903.1,1061.9L1903.1,1065.3L1903.1,1068.7L1903.2,1072.1L1903.2,1075.5L1903.2,1078.8L1903.1,1082.2L1903.1,1085.6L1903.1,1088.9L1903.1,1092.3L1903.1,1095.6L1903.1,1098.9L1903.1,1102.3L1903.0,1105.6L1903.0,1109.0L1903.0,1112.3L1902.9,1115.7L1902.9,1119.0L1902.8,1122.4L1902.8,1125.7L1902.7,1129.1L1902.7,1132.4L1902.6,1135.8L1902.6,1139.1L1902.5,1142.5L1902.5,1145.8L1902.4,1149.2L1902.3,1152.6L1902.3,1156.0L1902.2,1159.4L1902.1,1162.9L1902.0,1166.3L1902.0,1169.8L1901.9,1173.2L1901.8,1176.7L1901.7,1180.1L1901.6,1183.5L1901.5,1186.9L1901.4,1190.2L1901.3,1193.5L1901.2,1196.7L1901.1,1199.9L1901.0,1203.0L1900.8,1206.0L1900.7,1209.7L1900.5,1213.3L1900.3,1216.9L1900.1,1220.5L1899.8,1223.9L1899.6,1227.4L1899.4,1230.7L1899.2,1234.0L1899.0,1237.2L1898.8,1240.3L1898.7,1243.3L1898.6,1246.2L1898.5,1249.7L1898.5,1252.9L1898.5,1255.9L1898.5,1258.9L1898.5,1261.9L1898.5,1265.2L1898.4,1268.8L1898.3,1271.7L1898.1,1274.8L1897.9,1278.0L1897.7,1281.3L1897.5,1284.7L1897.2,1288.2L1896.9,1291.8L1896.7,1295.4L1896.4,1299.0L1896.1,1302.7L1895.8,1306.5L1895.6,1310.2L1895.3,1313.9L1895.1,1317.1L1894.9,1320.3L1894.8,1323.6L1894.6,1326.9L1894.4,1330.3L1894.2,1333.7L1894.0,1337.1L1893.9,1340.6L1893.7,1344.1L1893.5,1347.5L1893.3,1351.0L1893.1,1354.4L1892.9,1357.8L1892.7,1361.2L1892.5,1364.5L1892.3,1367.8L1892.1,1371.0L1891.9,1374.2L1891.6,1377.9L1891.3,1381.5L1890.9,1385.0L1890.6,1388.6L1890.3,1392.0L1889.9,1395.5L1889.6,1398.9L1889.2,1402.3L1888.9,1405.7L1888.5,1409.1L1888.2,1412.5L1887.9,1415.9L1887.6,1419.4L1887.3,1422.9L1887.0,1426.4L1886.7,1430.0L1886.4,1433.6L1886.1,1437.1L1885.8,1440.7L1885.6,1444.3L1885.3,1447.8L1885.1,1451.3L1884.8,1454.7L1884.6,1458.1L1884.3,1461.4L1884.1,1464.5L1883.9,1468.2L1883.6,1471.8L1883.4,1475.4L1883.2,1478.8L1883.0,1482.2L1882.8,1485.5L1882.7,1488.7L1882.5,1491.7L1882.4,1494.7L1882.1,1498.5L1881.6,1502.4L1881.3,1505.9L1881.4,1509.0L1882.3,1511.3L1884.2,1512.8L1886.9,1513.6L1890.0,1514.2L1892.6,1514.6L1895.4,1514.7L1898.5,1514.7L1902.0,1514.7L1906.2,1514.6L1911.0,1514.6L1913.0,1514.6L1915.2,1514.7L1917.6,1514.7L1920.0,1514.7L1922.7,1514.7L1925.4,1514.7L1928.3,1514.8L1931.2,1514.8L1934.4,1514.8L1937.6,1514.8L1940.9,1514.8L1944.3,1514.8L1947.9,1514.8L1951.5,1514.9L1955.2,1514.9L1959.0,1514.9L1962.9,1514.9L1966.8,1514.9L1970.9,1514.9L1975.0,1514.9L1979.1,1514.9L1983.4,1514.9L1987.7,1514.9L1992.0,1515.0L1996.4,1515.0L2000.8,1515.0L2005.3,1515.0L2009.8,1515.0L2014.3,1515.0L2018.8,1515.0L2023.4,1515.0L2028.0,1515.0L2032.6,1515.0L2037.2,1515.0L2041.8,1515.0L2046.4,1515.0L2051.0,1515.0L2055.6,1515.0L2060.2,1515.0L2064.7,1515.0L2069.3,1515.0L2073.8,1515.0L2078.3,1515.0L2082.7,1515.0L2087.1,1515.0L2091.4,1515.1L2095.8,1515.1L2100.0,1515.1L2103.7,1515.1L2107.3,1515.1L2111.0,1515.1L2114.8,1515.1L2118.5,1515.1L2122.2,1515.1L2126.0,1515.1L2129.8,1515.1L2133.6,1515.1L2137.4,1515.1L2141.2,1515.1L2145.0,1515.1L2148.9,1515.1L2152.7,1515.1L2156.6,1515.1L2160.5,1515.1L2164.3,1515.1L2168.2,1515.1L2172.2,1515.1L2176.1,1515.1L2180.0,1515.1L2183.9,1515.1L2187.9,1515.1L2191.8,1515.1L2195.8,1515.1L2199.8,1515.1L2203.8,1515.1L2207.7,1515.1L2211.7,1515.1L2215.7,1515.1L2219.7,1515.1L2223.7,1515.1L2227.7,1515.1L2231.8,1515.1L2235.8,1515.1L2239.8,1515.1L2243.8,1515.1L2247.9,1515.1L2251.9,1515.1L2255.9,1515.1L2259.9,1515.1L2264.0,1515.1L2268.0,1515.1L2272.0,1515.1L2276.1,1515.1L2280.1,1515.1L2284.1,1515.1L2288.2,1515.1L2292.2,1515.1L2296.2,1515.1L2300.2,1515.1L2304.2,1515.1L2308.2,1515.1L2312.3,1515.1L2316.3,1515.1L2320.3,1515.1L2324.2,1515.1L2328.2,1515.1L2332.2,1515.1L2336.2,1515.1L2340.1,1515.1L2344.1,1515.1L2348.1,1515.1L2352.0,1515.1"/>
<path class="cv" stroke="#000000" stroke-width="7" transform="scale(1 1.14286)" d="M1160.7,1512.1L1161.8,1510.5L1162.9,1508.8L1164.1,1505.7L1165.4,1502.5L1166.6,1499.9L1167.9,1497.8L1168.8,1496.9L1169.6,1496.5L1170.0,1496.9L1170.3,1497.8L1170.5,1499.8L1170.4,1502.5L1170.4,1505.5L1170.4,1508.8L1170.4,1512.1"/>
</g>
<g filter="url(#crisp)">
<text class="tl" text-anchor="middle" transform="translate(486.4 1843.0) scale(1 1.040)">100</text>
<text class="tl" text-anchor="middle" transform="translate(753.0 1843.0) scale(1 1.040)">200</text>
<text class="tl" text-anchor="middle" transform="translate(1019.6 1843.0) scale(1 1.040)">300</text>
<text class="tl" text-anchor="middle" transform="translate(1286.2 1843.0) scale(1 1.040)">400</text>
<text class="tl" text-anchor="middle" transform="translate(1552.8 1843.0) scale(1 1.040)">500</text>
<text class="tl" text-anchor="middle" transform="translate(1819.3 1843.0) scale(1 1.040)">600</text>
<text class="tl" text-anchor="middle" transform="translate(2085.9 1843.0) scale(1 1.040)">700</text>
<text class="tl" text-anchor="middle" transform="translate(2352.5 1843.0) scale(1 1.040)">800</text>
<text class="tl" text-anchor="end" transform="translate(232.0 1753.0) scale(1 1.040)">0</text>
<text class="tl" text-anchor="end" transform="translate(232.0 1556.3) scale(1 1.040)">2</text>
<text class="tl" text-anchor="end" transform="translate(232.0 1359.6) scale(1 1.040)">4</text>
<text class="tl" text-anchor="end" transform="translate(232.0 1162.9) scale(1 1.040)">6</text>
<text class="tl" text-anchor="end" transform="translate(232.0 966.2) scale(1 1.040)">8</text>
<text class="tl" text-anchor="end" transform="translate(232.0 769.5) scale(1 1.040)">10</text>
<text class="tl" text-anchor="end" transform="translate(232.0 572.8) scale(1 1.040)">12</text>
<text class="tl" text-anchor="end" transform="translate(232.0 376.1) scale(1 1.040)">14</text>
<text class="tl" text-anchor="end" transform="translate(232.0 179.4) scale(1 1.040)">16</text>
<text class="ti" text-anchor="middle" transform="translate(1320.0 1976.6) scale(1 1.052)">Temperature (°C)</text>
<text class="ti" text-anchor="middle" transform="translate(106.8 852.8) rotate(-90) scale(1 1.052)">Deriv. Weight (%/min)</text>
<text class="ti" text-anchor="end" transform="translate(2347.8 137.0) scale(1 1.052)">(B)</text>
</g>
<rect x="294" y="65" width="661" height="412" fill="#000" shape-rendering="crispEdges"/>
<rect x="298" y="68" width="654" height="406" fill="#fff" shape-rendering="crispEdges"/>
<g filter="url(#crisp)">
<text class="lg" text-anchor="start" transform="translate(461.5 130.8) scale(1 1.040)">CNF-SO<tspan font-size="41" dy="16.5">3</tspan><tspan dy="-16.5">HPTMS</tspan></text>
<text class="lg" text-anchor="start" transform="translate(461.5 221.5) scale(1 1.040)">CNF-ILs</text>
<text class="lg" text-anchor="start" transform="translate(461.5 298.7) scale(1 1.040)">CNF-S</text>
<text class="lg" text-anchor="start" transform="translate(461.5 376.4) scale(1 1.040)">CNF-O</text>
<text class="lg" text-anchor="start" transform="translate(461.5 454.1) scale(1 1.040)">CNF</text>
</g>
<line x1="305" y1="110.0" x2="445" y2="110.0" stroke="#00C8C8" stroke-width="8" stroke-linecap="round" shape-rendering="crispEdges"/>
<line x1="305" y1="200.5" x2="445" y2="200.5" stroke="#008000" stroke-width="7.4" stroke-linecap="round" shape-rendering="crispEdges"/>
<line x1="305" y1="278.2" x2="445" y2="278.2" stroke="#0068B0" stroke-width="8" stroke-linecap="round" shape-rendering="crispEdges"/>
<line x1="305" y1="355.4" x2="445" y2="355.4" stroke="#FF0000" stroke-width="7.6" stroke-linecap="round" shape-rendering="crispEdges"/>
<line x1="305" y1="433.2" x2="445" y2="433.2" stroke="#000000" stroke-width="7.6" stroke-linecap="round" shape-rendering="crispEdges"/>
</svg>
</body>
</html>
